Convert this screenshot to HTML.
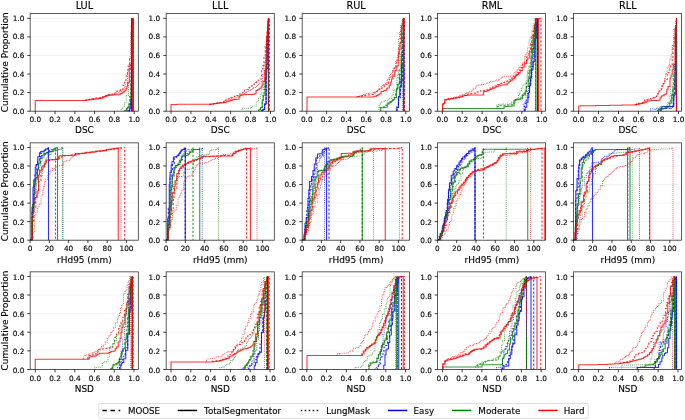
<!DOCTYPE html>
<html lang="en">
<head>
<meta charset="utf-8">
<title>Cumulative proportion curves</title>
<style>
html,body{margin:0;padding:0;background:#fff;}
body{width:685px;height:420px;overflow:hidden;font-family:'DejaVu Sans','Liberation Sans',sans-serif;}
svg{display:block;}
text{white-space:pre;stroke:#000;stroke-width:0.22px;stroke-opacity:0.6;paint-order:stroke;}
</style>
</head>
<body>
<svg width="685" height="420" viewBox="0 0 685 420" role="img" aria-label="Cumulative proportion curves">
<rect width="685" height="420" fill="#fff"/>
<defs>
<clipPath id="c00"><rect x="30.17" y="13.45" width="108.16" height="97.75"/></clipPath>
<clipPath id="c01"><rect x="166.17" y="13.45" width="108.13" height="97.75"/></clipPath>
<clipPath id="c02"><rect x="302.2" y="13.45" width="107.3" height="97.75"/></clipPath>
<clipPath id="c03"><rect x="437.5" y="13.45" width="108" height="97.75"/></clipPath>
<clipPath id="c04"><rect x="573.5" y="13.45" width="108" height="97.75"/></clipPath>
<clipPath id="c10"><rect x="30.17" y="142.85" width="108.16" height="97.35"/></clipPath>
<clipPath id="c11"><rect x="166.17" y="142.85" width="108.13" height="97.35"/></clipPath>
<clipPath id="c12"><rect x="302.2" y="142.85" width="107.3" height="97.35"/></clipPath>
<clipPath id="c13"><rect x="437.5" y="142.85" width="108" height="97.35"/></clipPath>
<clipPath id="c14"><rect x="573.5" y="142.85" width="108" height="97.35"/></clipPath>
<clipPath id="c20"><rect x="30.17" y="271.85" width="108.16" height="97.65"/></clipPath>
<clipPath id="c21"><rect x="166.17" y="271.85" width="108.13" height="97.65"/></clipPath>
<clipPath id="c22"><rect x="302.2" y="271.85" width="107.3" height="97.65"/></clipPath>
<clipPath id="c23"><rect x="437.5" y="271.85" width="108" height="97.65"/></clipPath>
<clipPath id="c24"><rect x="573.5" y="271.85" width="108" height="97.65"/></clipPath>
</defs>
<path d="M30.17 111.2H138.33M30.17 92.62H138.33M30.17 74.04H138.33M30.17 55.46H138.33M30.17 36.88H138.33M30.17 18.3H138.33" stroke="#b0b0b0" stroke-opacity="0.22" stroke-width="0.75" fill="none"/>
<g clip-path="url(#c00)" fill="none" stroke-linejoin="miter">
<path d="M128.25 111.2V110.75H129.5V108.75H131V62.25H131.75V18.3V111.2" stroke="#0000ff" stroke-width="1.1" stroke-opacity="0.8" stroke-dasharray="2.2 1.8"/>
<path d="M124.75 111.2V110.25H127V107.75H128.25V104H129.75V96.5H131.5V75H133.5V18.3V111.2" stroke="#008000" stroke-width="1.1" stroke-opacity="0.8" stroke-dasharray="2.2 1.8" stroke-dashoffset="1.3"/>
<path d="M84 100.5H85.25V100.25H86.25V100H88V99.75H89.75V99.25H91.75V98.75H93.25V98.5H94.5V98.25H96.5V98H98V97.75H100.5V97.5H102.5V96.75H104V96.25H104.75V96H106V95.5H108V95H109V94.75H110V94.5H111.25V94.25H112.5V94H113.25V93.25H115.25V91.75H116.75V91H118.5V90.5H120.5V89.5H121.75V89H123.25V85.25H124.5V82.25H125.75V80H126.25V74.75H127.5V69.75H128.25V66H129.5V58.75H131.25V30.75H132.25V18.3V111.2" stroke="#ff0000" stroke-width="1.1" stroke-opacity="0.8" stroke-dasharray="2.2 1.8" stroke-dashoffset="2.6"/>
<path d="M128.5 111.2V110.75H129.5V108H130.75V99.25H131.75V18.3V111.2" stroke="#0000ff" stroke-width="1.1" stroke-opacity="0.8"/>
<path d="M125.25 111.2V110.25H126.5V108.5H127.5V107.5H129V104H131V83.25H132V70.25H133.5V18.3V111.2" stroke="#008000" stroke-width="1.1" stroke-opacity="0.8"/>
<path d="M35.25 111.2V100.5H86V100.25H87.5V100H88.75V99.75H92V99.5H94V99.25H95.5V99H97.5V98.75H98.75V98.5H100.5V98.25H102.25V97.75H104V96.75H105V96.25H107V95.5H108V95.25H111.75V95H113.5V94.75H119V94.25H120.5V93.5H122.25V92.25H123.75V91.5H124.75V90.75H126V88.5H127V86.25H127.75V82.25H129.25V69.5H130V65H131.5V40H132.5V18.3V111.2" stroke="#ff0000" stroke-width="1.1" stroke-opacity="0.8"/>
<path d="M128 111.2V110.75H130V104.75H131.5V18.3V111.2" stroke="#0000ff" stroke-width="1.05" stroke-opacity="0.75" stroke-dasharray="0.74 1.22"/>
<path d="M121.25 111.2V108.5H122.75V106.5H124.5V102.75H126.25V95.5H128.5V82.25H130V74.75H131.25V57H132.25V31H133.5V18.3V111.2" stroke="#008000" stroke-width="1.05" stroke-opacity="0.75" stroke-dasharray="0.74 1.22" stroke-dashoffset="0.65"/>
<path d="M84 100.5H85.75V100H87.75V99.75H88.75V99.5H90.75V99.25H91.75V99H93.5V98.75H94.75V98.5H96.5V98.25H99.75V98H100.75V97.75H102.25V97H104V96.5H105.5V96H106.25V95.5H107.25V95.25H109.25V95H110.25V94.75H112.75V94.5H114.5V94H116V93.25H117V92.75H119V91.75H121V91H122V90H123V89.5H124.5V86.25H125.75V84.25H127.5V72H128.25V68.5H129.25V63H131V26H132.25V18.3V111.2" stroke="#ff0000" stroke-width="1.05" stroke-opacity="0.75" stroke-dasharray="0.74 1.22" stroke-dashoffset="1.3"/>
</g>
<rect x="30.17" y="13.45" width="108.16" height="97.75" fill="none" stroke="#000" stroke-opacity="0.8" stroke-width="0.8"/>
<path d="M27.32 111.2h2.85M27.32 92.62h2.85M27.32 74.04h2.85M27.32 55.46h2.85M27.32 36.88h2.85M27.32 18.3h2.85M35.3 111.2v2.85M55.08 111.2v2.85M74.86 111.2v2.85M94.64 111.2v2.85M114.42 111.2v2.85M134.2 111.2v2.85" stroke="#000" stroke-width="0.75" fill="none"/>
<g font-family="'DejaVu Sans','Liberation Sans',sans-serif" font-size="7.32" fill="#000">
<text x="24.35" y="113.73" text-anchor="end">0.0</text>
<text x="24.35" y="95.15" text-anchor="end">0.2</text>
<text x="24.35" y="76.57" text-anchor="end">0.4</text>
<text x="24.35" y="57.99" text-anchor="end">0.6</text>
<text x="24.35" y="39.41" text-anchor="end">0.8</text>
<text x="24.35" y="20.83" text-anchor="end">1.0</text>
<text x="35.3" y="122.16" text-anchor="middle">0.0</text>
<text x="55.08" y="122.16" text-anchor="middle">0.2</text>
<text x="74.86" y="122.16" text-anchor="middle">0.4</text>
<text x="94.64" y="122.16" text-anchor="middle">0.6</text>
<text x="114.42" y="122.16" text-anchor="middle">0.8</text>
<text x="134.2" y="122.16" text-anchor="middle">1.0</text>
</g>
<text x="84.4" y="133.15" text-anchor="middle" font-family="'DejaVu Sans','Liberation Sans',sans-serif" font-size="8.95" fill="#000">DSC</text>
<text x="84.4" y="8.65" text-anchor="middle" font-family="'DejaVu Sans','Liberation Sans',sans-serif" font-size="9.76" fill="#000">LUL</text>
<text transform="translate(8.1 62.2) rotate(-90)" text-anchor="middle" font-family="'DejaVu Sans','Liberation Sans',sans-serif" font-size="8.95" fill="#000">Cumulative Proportion</text>
<path d="M166.17 111.2H274.3M166.17 92.62H274.3M166.17 74.04H274.3M166.17 55.46H274.3M166.17 36.88H274.3M166.17 18.3H274.3" stroke="#b0b0b0" stroke-opacity="0.22" stroke-width="0.75" fill="none"/>
<g clip-path="url(#c01)" fill="none" stroke-linejoin="miter">
<path d="M262 111.2V110.25H262.75V109.75H264.5V104.75H266.25V64.5H268V29H268.5V18.3V111.2" stroke="#0000ff" stroke-width="1.1" stroke-opacity="0.8" stroke-dasharray="2.2 1.8"/>
<path d="M258.5 111.2V109.75H260.25V107.75H262.25V100.25H263.25V95H264V89.5H265.5V71H267V37H268.5V18.3V111.2" stroke="#008000" stroke-width="1.1" stroke-opacity="0.8" stroke-dasharray="2.2 1.8" stroke-dashoffset="1.3"/>
<path d="M208 104.5H210V104H213V103.5H215.5V103.25H217.25V103H218.25V102.75H219.75V102.5H221.75V102.25H223.75V101.25H225.75V100H226.75V99.75H228.5V98.75H229.25V98.5H230.25V97.75H231V97.5H232.75V97H234.25V96.25H236.25V95.5H238V94.75H239.5V94H241.25V93H243V91.75H243.75V91.25H244.5V90.25H246V89.5H248V88H249V87.25H250.5V86.25H252V85.25H254V83.75H255.5V82.5H256.5V81.5H258.25V80.25H259.75V79H261.5V69.25H262.75V65.75H264V55.75H265.25V44.5H267V30.75H268.75V20.5H269.5V18.3V111.2" stroke="#ff0000" stroke-width="1.1" stroke-opacity="0.8" stroke-dasharray="2.2 1.8" stroke-dashoffset="2.6"/>
<path d="M262 111.2V110.25H262.75V109.5H264V109H264.75V104.25H266V68.75H268V29H268.5V18.3V111.2" stroke="#0000ff" stroke-width="1.1" stroke-opacity="0.8"/>
<path d="M258.75 111.2V109.75H260.5V107.5H262.25V100.25H263.25V95.25H265V79.25H266V57.5H268V24.75H268.5V18.3V111.2" stroke="#008000" stroke-width="1.1" stroke-opacity="0.8"/>
<path d="M171 111.2V104.5H177V104.25H213.25V104H214V103.75H215.25V103.5H217V103.25H219.5V103H221.5V102.75H223.5V102.5H225.25V102.25H226.5V102H227.5V101.75H228.75V101H230.25V100.5H232.25V99.75H233.75V99.5H236V99.25H239V97H240V95.25H241.75V94.75H245.5V94.5H253V94.25H254.75V93.75H256V90.5H257.5V89.75H259.25V88.25H261.25V86.75H262V85H263V81.5H264.75V70.5H266.5V36H267.75V21.25H268.5V18.3V111.2" stroke="#ff0000" stroke-width="1.1" stroke-opacity="0.8"/>
<path d="M261.75 111.2V110.25H263.25V109.25H264.5V103.75H266V77H266.75V41.25H268V20H268.5V18.3V111.2" stroke="#0000ff" stroke-width="1.05" stroke-opacity="0.75" stroke-dasharray="0.74 1.22"/>
<path d="M242 111.2V108.25H251.5V106.25H253.25V106H256.25V101.75H257.25V100.25H258.5V98.75H260.25V94.25H261.75V90H263.25V86.5H264V84H265.75V61.75H266.75V47.75H268V18.3H268.5V111.2" stroke="#008000" stroke-width="1.05" stroke-opacity="0.75" stroke-dasharray="0.74 1.22" stroke-dashoffset="0.65"/>
<path d="M209 104.5H211V104H213.5V103.75H215.25V103.5H216.5V103.25H218V103H219.5V102.75H222V102.25H223.75V101.75H224.5V101.25H226V100.75H227.25V100H229.25V99.5H231.25V98.75H233V98H235.75V97.25H236.75V96.75H237.75V96.5H239.75V95.5H241V95H242V94.5H243.25V93.75H245.5V92.5H246.75V92H247.5V91.5H249V90.5H250.5V89.75H251.75V88.5H253V88H253.75V87.5H255.5V86.5H257V85.5H258.5V84H259.25V83.25H261.25V81.5H262.5V74H264V63H265.75V47H267V31.75H268.5V18.3V111.2" stroke="#ff0000" stroke-width="1.05" stroke-opacity="0.75" stroke-dasharray="0.74 1.22" stroke-dashoffset="1.3"/>
</g>
<rect x="166.17" y="13.45" width="108.13" height="97.75" fill="none" stroke="#000" stroke-opacity="0.8" stroke-width="0.8"/>
<path d="M163.32 111.2h2.85M163.32 92.62h2.85M163.32 74.04h2.85M163.32 55.46h2.85M163.32 36.88h2.85M163.32 18.3h2.85M171 111.2v2.85M190.9 111.2v2.85M210.8 111.2v2.85M230.7 111.2v2.85M250.6 111.2v2.85M270.5 111.2v2.85" stroke="#000" stroke-width="0.75" fill="none"/>
<g font-family="'DejaVu Sans','Liberation Sans',sans-serif" font-size="7.32" fill="#000">
<text x="160.2" y="113.73" text-anchor="end">0.0</text>
<text x="160.2" y="95.15" text-anchor="end">0.2</text>
<text x="160.2" y="76.57" text-anchor="end">0.4</text>
<text x="160.2" y="57.99" text-anchor="end">0.6</text>
<text x="160.2" y="39.41" text-anchor="end">0.8</text>
<text x="160.2" y="20.83" text-anchor="end">1.0</text>
<text x="171" y="122.16" text-anchor="middle">0.0</text>
<text x="190.9" y="122.16" text-anchor="middle">0.2</text>
<text x="210.8" y="122.16" text-anchor="middle">0.4</text>
<text x="230.7" y="122.16" text-anchor="middle">0.6</text>
<text x="250.6" y="122.16" text-anchor="middle">0.8</text>
<text x="270.5" y="122.16" text-anchor="middle">1.0</text>
</g>
<text x="220.25" y="133.15" text-anchor="middle" font-family="'DejaVu Sans','Liberation Sans',sans-serif" font-size="8.95" fill="#000">DSC</text>
<text x="220.25" y="8.65" text-anchor="middle" font-family="'DejaVu Sans','Liberation Sans',sans-serif" font-size="9.76" fill="#000">LLL</text>
<path d="M302.2 111.2H409.5M302.2 92.62H409.5M302.2 74.04H409.5M302.2 55.46H409.5M302.2 36.88H409.5M302.2 18.3H409.5" stroke="#b0b0b0" stroke-opacity="0.22" stroke-width="0.75" fill="none"/>
<g clip-path="url(#c02)" fill="none" stroke-linejoin="miter">
<path d="M396.75 111.2V107.25H398.5V97.75H400.5V80.5H402.5V47.25H403.5V18.3V111.2" stroke="#0000ff" stroke-width="1.1" stroke-opacity="0.8" stroke-dasharray="2.2 1.8"/>
<path d="M380.25 111.2V107.25H381.25V107H384.25V106.75H385V105.25H386.75V103H388.5V102.25H390V101.5H391V100.25H393V97.75H394V97.25H395.5V92.25H396.25V90.5H397.25V84.5H399.25V70.75H401.5V46.75H402.25V32.25H403.5V18.3V111.2" stroke="#008000" stroke-width="1.1" stroke-opacity="0.8" stroke-dasharray="2.2 1.8" stroke-dashoffset="1.3"/>
<path d="M356.5 97H357.25V96.5H359.25V96.25H361V96H362.25V95.75H363.5V95.5H365.25V95.25H366.5V95H370V94.75H371.25V94.5H373.25V93.5H374.25V92.75H375.5V92H376.5V91.5H377.5V90.75H379.25V89.25H380.25V88.75H381.25V88H382.5V87H384.25V85.75H385.25V84.75H386.75V83.5H388.5V79.75H389.5V78.25H390.25V77H391.5V75.25H393V70.75H394V68H395V66.25H396.75V60.25H398.75V46H400.5V31H402.25V21.5H403.25V19.75H404V19H404.5V18.3V111.2" stroke="#ff0000" stroke-width="1.1" stroke-opacity="0.8" stroke-dasharray="2.2 1.8" stroke-dashoffset="2.6"/>
<path d="M397 111.2V107.25H398.5V96.5H399.75V87H401.5V65.25H403.5V18.3V111.2" stroke="#0000ff" stroke-width="1.1" stroke-opacity="0.8"/>
<path d="M380.75 111.2V107.75H383.75V107.5H385.25V107.25H387.25V104H389.25V103H390.25V102.5H391.25V101.5H392V100.75H393V99.75H394.75V97.5H396.5V88.75H398V84H399.75V74.5H401.25V54.25H403.5V18.3V111.2" stroke="#008000" stroke-width="1.1" stroke-opacity="0.8"/>
<path d="M307 111.2V97H373.25V96.75H374.5V96.25H376.5V95.5H378V94.75H379.25V94H381V91.5H383.75V90.75H385V90.5H386.25V89H387.25V88H389.25V85.25H390.75V82.25H391.5V79H392.75V76.25H394.75V71H395.5V70.5H396.75V66H398.25V54H399.25V50H400V43H401.5V26H403V19.75H403.5V18.3V111.2" stroke="#ff0000" stroke-width="1.1" stroke-opacity="0.8"/>
<path d="M396.25 111.2V107.25H398.25V96.75H400.25V78.5H401.5V58H402.5V38.75H404.5V18.3V111.2" stroke="#0000ff" stroke-width="1.05" stroke-opacity="0.75" stroke-dasharray="0.74 1.22"/>
<path d="M379 111.2V104.75H380.25V103.25H381.25V102.25H382V101.75H383.75V101.25H385V100.75H385.75V100.5H387V100.25H388.75V99.25H389.5V98.75H390.25V98.5H391.75V95.25H393.25V90.5H394V90H395.75V89.5H397V77.5H397.75V75.25H398.5V69.5H400.25V54.25H401.75V34.25H402.5V18.3V111.2" stroke="#008000" stroke-width="1.05" stroke-opacity="0.75" stroke-dasharray="0.74 1.22" stroke-dashoffset="0.65"/>
<path d="M355.25 97H357V96.5H358.25V96.25H359.5V96H361.25V95.75H362.25V95.5H363V95.25H364V94.75H365.25V94.25H366.5V93.75H368.5V93.5H370V93.25H373.5V92.75H374.75V92.25H376.5V91H377.25V90H379.25V88.5H381.25V86.5H382.25V85.25H383.5V84.75H384.75V83.75H385.75V82.75H386.75V80.75H387.75V78H389.75V74.75H390.5V73.25H392.5V70H393.75V68.25H395.5V60.75H397V56.75H398.75V39.75H399.5V32.75H400.5V25.5H402V21H403.5V19H404.5V18.3V111.2" stroke="#ff0000" stroke-width="1.05" stroke-opacity="0.75" stroke-dasharray="0.74 1.22" stroke-dashoffset="1.3"/>
</g>
<rect x="302.2" y="13.45" width="107.3" height="97.75" fill="none" stroke="#000" stroke-opacity="0.8" stroke-width="0.8"/>
<path d="M299.35 111.2h2.85M299.35 92.62h2.85M299.35 74.04h2.85M299.35 55.46h2.85M299.35 36.88h2.85M299.35 18.3h2.85M306.8 111.2v2.85M326.6 111.2v2.85M346.4 111.2v2.85M366.2 111.2v2.85M386 111.2v2.85M405.8 111.2v2.85" stroke="#000" stroke-width="0.75" fill="none"/>
<g font-family="'DejaVu Sans','Liberation Sans',sans-serif" font-size="7.32" fill="#000">
<text x="296.05" y="113.73" text-anchor="end">0.0</text>
<text x="296.05" y="95.15" text-anchor="end">0.2</text>
<text x="296.05" y="76.57" text-anchor="end">0.4</text>
<text x="296.05" y="57.99" text-anchor="end">0.6</text>
<text x="296.05" y="39.41" text-anchor="end">0.8</text>
<text x="296.05" y="20.83" text-anchor="end">1.0</text>
<text x="306.8" y="122.16" text-anchor="middle">0.0</text>
<text x="326.6" y="122.16" text-anchor="middle">0.2</text>
<text x="346.4" y="122.16" text-anchor="middle">0.4</text>
<text x="366.2" y="122.16" text-anchor="middle">0.6</text>
<text x="386" y="122.16" text-anchor="middle">0.8</text>
<text x="405.8" y="122.16" text-anchor="middle">1.0</text>
</g>
<text x="356.1" y="133.15" text-anchor="middle" font-family="'DejaVu Sans','Liberation Sans',sans-serif" font-size="8.95" fill="#000">DSC</text>
<text x="356.1" y="8.65" text-anchor="middle" font-family="'DejaVu Sans','Liberation Sans',sans-serif" font-size="9.76" fill="#000">RUL</text>
<path d="M437.5 111.2H545.5M437.5 92.62H545.5M437.5 74.04H545.5M437.5 55.46H545.5M437.5 36.88H545.5M437.5 18.3H545.5" stroke="#b0b0b0" stroke-opacity="0.22" stroke-width="0.75" fill="none"/>
<g clip-path="url(#c03)" fill="none" stroke-linejoin="miter">
<path d="M524.5 111.2V106H525.5V103H526.75V100H527.75V93.5H529.5V83.75H531V71.25H531.75V66.5H533V56.25H534V44.75H535.25V31.5H536.25V23H537.5V18.3V111.2" stroke="#0000ff" stroke-width="1.1" stroke-opacity="0.8" stroke-dasharray="2.2 1.8"/>
<path d="M496 108.5H497.5V106.5H499.5V105.5H500.5V105.25H507V105H509V104.75H512V104.5H513V103H515V99.75H515.75V99.5H517V99.25H519.25V98.25H521V96H522.25V94.75H523.75V93.5H524.75V91.5H526.5V82.75H528.25V73H530V63H531.75V50H532.75V43.75H534V27.5H535.25V18.3H535.5V111.2" stroke="#008000" stroke-width="1.1" stroke-opacity="0.8" stroke-dasharray="2.2 1.8" stroke-dashoffset="1.3"/>
<path d="M442.5 111.2V104.75H444.5V100H446.5V99.75H448.75V99.5H450V99H451.75V98.75H454.5V98.25H456.5V98H459.25V97.25H460.5V97H461.25V96.75H462.25V96.25H463.5V95.75H464.25V95.5H466V94.75H467.5V94.25H468.25V94H471V93.5H473.25V93.25H475.25V92.75H477V92H478V91.75H479V91.25H480.5V90.75H482.25V90.5H484.25V90.25H485.25V90H487V89.75H488.5V89H490.25V88H491V87.75H492.5V87H494.5V86H496.5V85H497.5V84.5H499.25V83.75H500.75V83.5H501.75V83H503V82.5H504.5V82H505.75V81.5H507.25V80.75H509.25V79.75H510.5V79H511.75V78H512.75V77H513.75V76.5H514.75V75.5H516.25V74H517.75V72.5H519.25V70H521V67.75H522.75V64.25H524.75V61.75H526.75V56.75H528.25V52.25H529.25V49.25H530.5V42.5H531.5V37.75H533V31.5H534.5V25H536V19.5H537V18.5H540V18.3H541V111.2" stroke="#ff0000" stroke-width="1.1" stroke-opacity="0.8" stroke-dasharray="2.2 1.8" stroke-dashoffset="2.6"/>
<path d="M525.25 111.2V107.25H526.75V102.25H528V97.5H528.75V92.5H529.5V85.75H530.5V77.75H531.5V69.75H533V61.5H534.75V38.5H536.5V22.5H537.5V18.3V111.2" stroke="#0000ff" stroke-width="1.1" stroke-opacity="0.8"/>
<path d="M442.75 111.2V108.5H504V106.75H505.25V106.5H508.25V106.25H511.75V106H514V101H515.25V100H516.5V99.75H518.25V99.25H520.5V98.75H522.5V95.5H523.75V94.75H525.25V91H526.25V86.25H528.25V78.75H529.75V70.25H531.25V57.75H532.25V49.25H533.75V36.25H534.75V26H535.5V18.5H536V18.3V111.2" stroke="#008000" stroke-width="1.1" stroke-opacity="0.8"/>
<path d="M442.75 111.2V103.75H444.75V99.5H446.5V99.25H448.25V99H449.25V98.75H451.25V98.5H454V98H455.5V97.75H457.25V97.5H458.5V97.25H460.5V96.75H461.75V96.25H463V96H464V95.75H464.75V95.5H466.75V95.25H468.75V95H483.5V91.75H484.25V91.5H486.25V91H487.75V90.25H489.75V89.5H491.25V88.75H493V88.25H494.75V87.25H495.5V87H496.5V86.25H498.5V85.75H500.5V85.25H501.75V85H503.75V84.75H507V83.25H509V81.5H510.75V80.25H512.75V78.75H514.5V77.25H515.5V76H516.25V75.25H517.5V74.5H518.5V73H520.25V70.5H522.25V67.5H522.75V67H524.75V63.75H526.5V60H527.75V58H529.75V51.75H531.5V44.25H533V35.5H534.75V24.75H536V19.5H537.5V18.5H538.5V18.3V111.2" stroke="#ff0000" stroke-width="1.1" stroke-opacity="0.8"/>
<path d="M523.25 111.2V104.75H524.25V101.25H526V95.25H527.5V91.75H528.5V86H529.75V78.25H532V64.75H533.75V48.75H535.5V28H537V18.75H537.5V18.3V111.2" stroke="#0000ff" stroke-width="1.05" stroke-opacity="0.75" stroke-dasharray="0.74 1.22"/>
<path d="M494.75 108.5H496.75V105.25H498.5V104.25H502.75V104H509.75V103.5H511.75V102.25H514V100.75H515.5V99.5H516.5V98.5H518.5V94.25H520V90.5H521.25V88.5H522.75V85.25H523.75V84.25H525V83.5H526V80.75H526.75V75.5H527.5V71.25H528.75V66.5H531V55H532.5V40.75H534.25V24.25H535.5V18.3V111.2" stroke="#008000" stroke-width="1.05" stroke-opacity="0.75" stroke-dasharray="0.74 1.22" stroke-dashoffset="0.65"/>
<path d="M442.5 111.2V104.75H443.5V102.75H445.25V99.75H447V99.25H448.5V98.75H450V98.5H451V98H452.25V97.75H453.5V97.5H455V97H456.75V96.5H458.25V96H459.75V95.75H460.75V95.25H462.5V94.5H464V93.75H465.5V93.25H466.5V93H468V92.75H469.25V92H471V90.75H472V89.75H473.25V88.5H475.25V86.75H476.25V85.75H478V85.25H480V85H481.75V84.5H483.5V84.25H484.5V84H485.5V83.75H487.5V83H488.75V82.5H490.5V81.75H491.5V81.5H492.75V81.25H494.5V80.75H496.75V80H498.5V79.25H500.25V78.5H502V77.25H503V76.75H504V76.25H510.25V76H513.5V73.75H514.75V72H516V71H517.25V69.75H518.25V68.75H519.25V67.5H521V65.25H522.5V63H523V62.25H524.5V56.5H525.75V53.25H527.5V47.75H529V40.25H530.25V36.5H532V30.75H533V25.25H534V22.25H535.25V19.25H536.5V18.5H538.5V18.3V111.2" stroke="#ff0000" stroke-width="1.05" stroke-opacity="0.75" stroke-dasharray="0.74 1.22" stroke-dashoffset="1.3"/>
</g>
<rect x="437.5" y="13.45" width="108" height="97.75" fill="none" stroke="#000" stroke-opacity="0.8" stroke-width="0.8"/>
<path d="M434.65 111.2h2.85M434.65 92.62h2.85M434.65 74.04h2.85M434.65 55.46h2.85M434.65 36.88h2.85M434.65 18.3h2.85M442.4 111.2v2.85M462.26 111.2v2.85M482.12 111.2v2.85M501.98 111.2v2.85M521.84 111.2v2.85M541.7 111.2v2.85" stroke="#000" stroke-width="0.75" fill="none"/>
<g font-family="'DejaVu Sans','Liberation Sans',sans-serif" font-size="7.32" fill="#000">
<text x="431.9" y="113.73" text-anchor="end">0.0</text>
<text x="431.9" y="95.15" text-anchor="end">0.2</text>
<text x="431.9" y="76.57" text-anchor="end">0.4</text>
<text x="431.9" y="57.99" text-anchor="end">0.6</text>
<text x="431.9" y="39.41" text-anchor="end">0.8</text>
<text x="431.9" y="20.83" text-anchor="end">1.0</text>
<text x="442.4" y="122.16" text-anchor="middle">0.0</text>
<text x="462.26" y="122.16" text-anchor="middle">0.2</text>
<text x="482.12" y="122.16" text-anchor="middle">0.4</text>
<text x="501.98" y="122.16" text-anchor="middle">0.6</text>
<text x="521.84" y="122.16" text-anchor="middle">0.8</text>
<text x="541.7" y="122.16" text-anchor="middle">1.0</text>
</g>
<text x="491.95" y="133.15" text-anchor="middle" font-family="'DejaVu Sans','Liberation Sans',sans-serif" font-size="8.95" fill="#000">DSC</text>
<text x="491.95" y="8.65" text-anchor="middle" font-family="'DejaVu Sans','Liberation Sans',sans-serif" font-size="9.76" fill="#000">RML</text>
<path d="M573.5 111.2H681.5M573.5 92.62H681.5M573.5 74.04H681.5M573.5 55.46H681.5M573.5 36.88H681.5M573.5 18.3H681.5" stroke="#b0b0b0" stroke-opacity="0.22" stroke-width="0.75" fill="none"/>
<g clip-path="url(#c04)" fill="none" stroke-linejoin="miter">
<path d="M660 111.2V109H661.5V108.75H664.25V108.5H666.25V108.25H669.25V108H672.5V104.25H673.75V95.75H674.75V79H676.5V18.3V111.2" stroke="#0000ff" stroke-width="1.1" stroke-opacity="0.8" stroke-dasharray="2.2 1.8"/>
<path d="M657.5 111.2V109.5H658.75V109.25H660.5V108.75H661.75V108.5H663V108.25H663.75V108H665.75V107.25H667V106.25H669V103.25H670.75V99H672V94.25H673V84.75H673.75V75.75H675.5V33.75H676.5V18.3V111.2" stroke="#008000" stroke-width="1.1" stroke-opacity="0.8" stroke-dasharray="2.2 1.8" stroke-dashoffset="1.3"/>
<path d="M634.25 104.75H636.5V104H637.75V103.75H638.75V103.25H640.25V103H641.25V102.75H642.75V101H644.5V100H645.25V99.75H647V99.5H648V99.25H649V99H650.75V98.25H652.5V97.75H654V97H655.25V96.75H656.5V96H657.5V93.75H659.25V91H661.25V86.75H662V85.5H663.25V83.5H665V79.5H667.25V74.5H668.25V72.5H669.75V68.75H670.5V65.5H672.25V57.25H673V46H674.25V36.25H676.5V18.3V111.2" stroke="#ff0000" stroke-width="1.1" stroke-opacity="0.8" stroke-dasharray="2.2 1.8" stroke-dashoffset="2.6"/>
<path d="M661.25 111.2V106.75H662.75V106.5H673.75V94.25H675.75V25.5H676.5V18.3V111.2" stroke="#0000ff" stroke-width="1.1" stroke-opacity="0.8"/>
<path d="M658.25 111.2V109.5H661V108.75H662.75V108.5H664.5V108.25H666.25V107.5H668V106.75H668.75V106.25H669.75V103H671.75V95.5H673V88.75H674.75V66H675.75V31H676.5V18.3V111.2" stroke="#008000" stroke-width="1.1" stroke-opacity="0.8"/>
<path d="M578.75 111.2V106H580.5V105.75H596V105.5H609.5V105.25H621.75V105H634.75V104.75H636.25V104.5H638.75V104H640.25V103.75H641.5V103.5H642.5V103.25H643.25V103H644.25V102.75H646V101.75H647.25V101.25H648V101H650V100.75H651.5V100.5H658V100.25H660V98H661.25V96.25H662V95.75H664V94.5H665.25V94H666.75V89.75H668V86.5H670V78.25H671V75H672.25V69.75H673.25V64.75H675V28.5H676.5V18.3V111.2" stroke="#ff0000" stroke-width="1.1" stroke-opacity="0.8"/>
<path d="M650.5 111.2V109H655.5V108.75H671.5V106.75H673V98.25H674.75V63.75H676.5V18.3V111.2" stroke="#0000ff" stroke-width="1.05" stroke-opacity="0.75" stroke-dasharray="0.74 1.22"/>
<path d="M655.25 111.2V108.75H657.25V108H658.5V107.75H660V107.25H660.75V107H664.75V106.75H666.5V105.5H667.75V102.75H669.25V96.25H670.75V89.75H673V74.5H673.75V63.5H676V26H676.5V18.3V111.2" stroke="#008000" stroke-width="1.05" stroke-opacity="0.75" stroke-dasharray="0.74 1.22" stroke-dashoffset="0.65"/>
<path d="M634.25 104.75H636V104.25H638V103.75H639.25V103.5H642.25V102.75H643.5V102.25H644.25V101.75H645.5V101.25H647V100.75H647.75V100H649.75V99.25H651.75V98.75H653V98.25H654V98H655.5V96.75H656.25V95.75H658V92.75H658.75V91.25H660V89.5H662V85.25H662.75V84.25H663.5V82.75H664.5V78.75H665.5V74.25H666.5V71.75H667.25V68H668.25V65.75H669.75V59.25H671V54.75H672.25V44.75H673.75V29.25H675.5V20.25H676.5V18.3V111.2" stroke="#ff0000" stroke-width="1.05" stroke-opacity="0.75" stroke-dasharray="0.74 1.22" stroke-dashoffset="1.3"/>
</g>
<rect x="573.5" y="13.45" width="108" height="97.75" fill="none" stroke="#000" stroke-opacity="0.8" stroke-width="0.8"/>
<path d="M570.65 111.2h2.85M570.65 92.62h2.85M570.65 74.04h2.85M570.65 55.46h2.85M570.65 36.88h2.85M570.65 18.3h2.85M578.55 111.2v2.85M598.54 111.2v2.85M618.53 111.2v2.85M638.52 111.2v2.85M658.51 111.2v2.85M678.5 111.2v2.85" stroke="#000" stroke-width="0.75" fill="none"/>
<g font-family="'DejaVu Sans','Liberation Sans',sans-serif" font-size="7.32" fill="#000">
<text x="567.75" y="113.73" text-anchor="end">0.0</text>
<text x="567.75" y="95.15" text-anchor="end">0.2</text>
<text x="567.75" y="76.57" text-anchor="end">0.4</text>
<text x="567.75" y="57.99" text-anchor="end">0.6</text>
<text x="567.75" y="39.41" text-anchor="end">0.8</text>
<text x="567.75" y="20.83" text-anchor="end">1.0</text>
<text x="578.55" y="122.16" text-anchor="middle">0.0</text>
<text x="598.54" y="122.16" text-anchor="middle">0.2</text>
<text x="618.53" y="122.16" text-anchor="middle">0.4</text>
<text x="638.52" y="122.16" text-anchor="middle">0.6</text>
<text x="658.51" y="122.16" text-anchor="middle">0.8</text>
<text x="678.5" y="122.16" text-anchor="middle">1.0</text>
</g>
<text x="627.8" y="133.15" text-anchor="middle" font-family="'DejaVu Sans','Liberation Sans',sans-serif" font-size="8.95" fill="#000">DSC</text>
<text x="627.8" y="8.65" text-anchor="middle" font-family="'DejaVu Sans','Liberation Sans',sans-serif" font-size="9.76" fill="#000">RLL</text>
<path d="M30.17 240.2H138.33M30.17 221.64H138.33M30.17 203.08H138.33M30.17 184.52H138.33M30.17 165.96H138.33M30.17 147.4H138.33" stroke="#b0b0b0" stroke-opacity="0.22" stroke-width="0.75" fill="none"/>
<g clip-path="url(#c10)" fill="none" stroke-linejoin="miter">
<path d="M30.75 240.2V240H32.75V204H34V184.25H35V173.25H36.75V163.25H37.75V160.25H39.25V156.5H40.75V153.25H42.25V152H44.25V150.75H45.25V149.75H46.5V149H47.75V148H48.5V147.4" stroke="#0000ff" stroke-width="1.1" stroke-opacity="0.8" stroke-dasharray="2.2 1.8"/>
<path d="M30.75 240.2V240H32V212.25H33.5V194H35V179.5H37V170.25H38.5V162.75H40.5V156.5H41.5V155.5H43.25V154H44.25V153.5H45.25V152.75H47.25V151.25H48V151H49.5V150H50.75V149.5H54V149.25H55.5V147.4V240.2" stroke="#008000" stroke-width="1.1" stroke-opacity="0.8" stroke-dasharray="2.2 1.8" stroke-dashoffset="1.3"/>
<path d="M30.75 240.2V240H32.25V220.75H33.75V208H35.75V196.75H36.75V193H38.75V181.75H41V170.5H42.75V167.25H44.25V164H45V163H46.5V161H47.25V160.75H49.25V160H51V159.75H52.75V159.5H55V159.25H56.25V159H57.5V158.75H59.25V158H61V157.25H61.75V156.5H62.75V156.25H63.75V155.75H67.75V155.5H69.75V155.25H71V155H74.5V154.75H76V154.25H77.75V154H79.5V153.75H81.5V153.5H83V153.25H84.75V153H86.5V152.75H88V152.5H91.25V152.25H92V152H95V151.75H96.25V151.5H99V151.25H100V151H100.75V150.75H102.75V150.5H104.75V150.25H106.5V149.75H108.75V149.5H110.5V149.25H113.5V149H114.5V148.75H117.5V148.5H120.25V148.25H121V148H123V147.75H124.75V147.4V240.2" stroke="#ff0000" stroke-width="1.1" stroke-opacity="0.8" stroke-dasharray="2.2 1.8" stroke-dashoffset="2.6"/>
<path d="M30.5 240.2V240H32V207.25H33V187.25H33.75V180H35.25V167.25H36V164.5H37.75V156.75H39.5V152.75H40.75V151.5H41.75V151.25H44.25V150.25H45.5V149H47.5V148.75H48.5V147.4V240.2" stroke="#0000ff" stroke-width="1.1" stroke-opacity="0.8"/>
<path d="M30.75 240.2V240H32.5V204.5H33.75V194.25H34.75V181.5H35.75V177.75H37.5V169.25H38.5V163.75H40V158.5H41.75V156H43.25V154.75H45.25V153.25H46.5V152.5H48.25V151.75H50V151.5H51V151.25H53V149.75H53.75V149H54.75V148.25H56V147.75H56.75V147.5H57.5V147.4V240.2" stroke="#008000" stroke-width="1.1" stroke-opacity="0.8"/>
<path d="M30.5 240.2V240H32.25V211.5H34V202.75H35V197.5H37V191H38.5V175H39.5V170.25H41.5V167H42.75V165.75H44.5V164H46V160H50V159.75H54.5V159.5H58.25V157H59.25V155.75H64.75V155.5H71.5V155.25H74.25V154.75H75.5V153.5H81.25V153.25H84.5V152.75H85.75V152.25H90.25V152H95.75V151H102.75V150.75H106.25V149.5H108.25V149.25H111.75V149H113V148.75H114.5V148.5H115.5V148.25H118.25V147.4V240.2" stroke="#ff0000" stroke-width="1.1" stroke-opacity="0.8"/>
<path d="M30.75 240.2V240H32V217.5H32.75V207.5H34.25V186.25H35.75V177.25H37.25V170.5H39V165.25H41V161.75H42V159H43V157.75H44V155.75H45.25V154.25H47V153H47.75V152.5H49V151.75H50.75V151.5H52V151.25H54.5V151H56.25V150.25H58.25V149.25H60V148.75H62V147.75H63V147.4V240.2" stroke="#0000ff" stroke-width="1.05" stroke-opacity="0.75" stroke-dasharray="0.74 1.22"/>
<path d="M31 240.2V240H32.25V218.25H33.75V198.75H35V190.25H36.5V182H38V177.75H39.25V176.25H40.5V175.75H42.25V169.25H43.25V166H44.75V161.75H45.75V158.25H47.5V155.75H49.5V154.75H50.75V153H52.25V151.25H53.25V150.5H54.75V150H56.5V149.75H58.5V149.5H60.5V149.25H61.75V148H62.5V147.4V240.2" stroke="#008000" stroke-width="1.05" stroke-opacity="0.75" stroke-dasharray="0.74 1.22" stroke-dashoffset="0.65"/>
<path d="M31 240.2V240H32.5V231.25H34.5V215.5H35.75V212H37.25V208.5H38V206H39.25V204H41V195.25H42.75V190.5H43.5V186.75H44.5V182H45.75V179.25H47.75V175H50V171.75H51V170.5H52.5V168.75H54.25V167.5H55.5V167H57.5V166H59V165.75H60.25V165.5H62.75V164.75H63.75V161.75H64.5V161.5H66.5V160.75H67.25V160.5H68.5V160H69.75V159H71V158H72.5V157H73.75V156.25H74.75V155.5H75.75V155H77.25V154.5H78V154H80.5V153.75H84V153.5H86V153.25H87.75V153H90.75V152.75H91.5V152.5H93V152.25H94.5V152H95.25V151.75H96.25V151.5H98V151.25H100V151H101.75V150.75H102.75V150.5H103.5V150.25H106.25V150H108V149.75H110V149.5H111.25V149.25H112.75V149H114.5V148.75H115.5V148.5H117.25V148.25H118V148H119.5V147.75H121V147.4V240.2" stroke="#ff0000" stroke-width="1.05" stroke-opacity="0.75" stroke-dasharray="0.74 1.22" stroke-dashoffset="1.3"/>
</g>
<rect x="30.17" y="142.85" width="108.16" height="97.35" fill="none" stroke="#000" stroke-opacity="0.8" stroke-width="0.8"/>
<path d="M27.32 240.2h2.85M27.32 221.64h2.85M27.32 203.08h2.85M27.32 184.52h2.85M27.32 165.96h2.85M27.32 147.4h2.85M30.07 240.2v2.85M49.35 240.2v2.85M68.63 240.2v2.85M87.91 240.2v2.85M107.19 240.2v2.85M126.47 240.2v2.85" stroke="#000" stroke-width="0.75" fill="none"/>
<g font-family="'DejaVu Sans','Liberation Sans',sans-serif" font-size="7.32" fill="#000">
<text x="24.35" y="243.08" text-anchor="end">0.0</text>
<text x="24.35" y="224.52" text-anchor="end">0.2</text>
<text x="24.35" y="205.96" text-anchor="end">0.4</text>
<text x="24.35" y="187.4" text-anchor="end">0.6</text>
<text x="24.35" y="168.84" text-anchor="end">0.8</text>
<text x="24.35" y="150.28" text-anchor="end">1.0</text>
<text x="30.07" y="251.16" text-anchor="middle">0</text>
<text x="49.35" y="251.16" text-anchor="middle">20</text>
<text x="68.63" y="251.16" text-anchor="middle">40</text>
<text x="87.91" y="251.16" text-anchor="middle">60</text>
<text x="107.19" y="251.16" text-anchor="middle">80</text>
<text x="126.47" y="251.16" text-anchor="middle">100</text>
</g>
<text x="84.4" y="262.92" text-anchor="middle" font-family="'DejaVu Sans','Liberation Sans',sans-serif" font-size="8.95" fill="#000">rHd95 (mm)</text>
<text transform="translate(8.1 191.37) rotate(-90)" text-anchor="middle" font-family="'DejaVu Sans','Liberation Sans',sans-serif" font-size="8.95" fill="#000">Cumulative Proportion</text>
<path d="M166.17 240.2H274.3M166.17 221.64H274.3M166.17 203.08H274.3M166.17 184.52H274.3M166.17 165.96H274.3M166.17 147.4H274.3" stroke="#b0b0b0" stroke-opacity="0.22" stroke-width="0.75" fill="none"/>
<g clip-path="url(#c11)" fill="none" stroke-linejoin="miter">
<path d="M166.5 240.2V240H168.25V207.25H170V176.5H171V170.75H172.5V163.5H174.25V157.5H175V157.25H176.5V156.5H178.25V155H179V153.75H180V152.25H181.75V149.75H182.5V149.5H184.25V148H185.25V147.4V240.2" stroke="#0000ff" stroke-width="1.1" stroke-opacity="0.8" stroke-dasharray="2.2 1.8"/>
<path d="M166.5 240.2V240H167.75V229H169.5V209.5H171.25V188.5H172.5V177.5H174V169.5H174.75V166H177V165H178V164.5H179.5V162.5H180.25V159.5H182.5V156.25H184.5V154.75H185.5V154.25H187V153.5H189V151.75H190V151H192V147.75H193V147.4V240.2" stroke="#008000" stroke-width="1.1" stroke-opacity="0.8" stroke-dasharray="2.2 1.8" stroke-dashoffset="1.3"/>
<path d="M166.75 240.2V240H167.75V232.75H168.5V227.5H170V217.25H171.25V211H173.25V197.5H174V193.75H174.75V188.25H176.75V176.75H177.75V173.75H179.5V170.25H181V168.25H181.75V167.25H183.5V165.25H185.5V164.25H186.25V164H187V163.5H188V163H188.75V162.75H190.75V162H192V161.5H193.5V161H194.75V160.5H196.5V159.75H197.25V159.5H198.75V158.75H200.25V158H202.25V157.25H204V157H205V156.75H209V156.5H212.5V156.25H216.25V156H220.75V155.75H224.25V155.5H230.25V155.25H233.25V153.25H235V151.75H236V151.25H237V150.75H239V150.25H240V150H241V149.75H241.75V149.5H243.25V149H244V148.75H246V147.75H246.5V147.4V240.2" stroke="#ff0000" stroke-width="1.1" stroke-opacity="0.8" stroke-dasharray="2.2 1.8" stroke-dashoffset="2.6"/>
<path d="M166.5 240.2V240H167.75V218.25H169.25V184.5H170V172.25H171.25V165H172V161.5H173.5V157H175V156.75H176.75V156H178V155H179V153.5H180.25V151.75H181V150.25H182.25V149.5H183.75V149.25H185.25V147.4V240.2" stroke="#0000ff" stroke-width="1.1" stroke-opacity="0.8"/>
<path d="M166.5 240.2V240H168V223.25H169.25V210.25H171V185.75H172.25V175H174V167.5H175.25V165.75H176V165.5H178V164.25H180V160.5H181.75V156.25H183V155.75H185.5V155.5H188V154.25H189.5V152.5H190.75V152H192.25V150.75H193.5V149.5H199.25V149.25H199.75V147.4V240.2" stroke="#008000" stroke-width="1.1" stroke-opacity="0.8"/>
<path d="M166.5 240.2V240H168V227.5H170V213.75H171V203.25H171.75V200.25H172.75V192.5H174.25V186.5H175V181H176.75V173.75H178.5V170.5H179.5V168.25H180.75V166.75H182.5V165H184.5V164H185.75V163.25H187.5V162.5H188.5V162H189.5V161.5H190.25V161.25H192V160.75H193.25V160.25H195V159.75H196V159.5H197.5V159H198.75V158.75H200.75V157.25H201.75V156.75H203.5V156.25H217.5V156H232.5V154H234V153.25H235.75V152H236.5V151.5H238.5V150.75H240V150.25H241V149.75H242.25V149.5H243.5V149H245.25V148.75H246.75V148.5H250.5V147.4V240.2" stroke="#ff0000" stroke-width="1.1" stroke-opacity="0.8"/>
<path d="M166.5 240.2V240H167.75V225.5H169V208H170V190H171.25V180H172.25V175.25H173V173.25H174V169.75H175.25V167.5H176.25V165.5H178V162H179V160.75H180V158.5H181.75V155.5H183V153.25H184.25V151.5H186V150.5H188V149.5H199.5V149.25H202.25V147.4V240.2" stroke="#0000ff" stroke-width="1.05" stroke-opacity="0.75" stroke-dasharray="0.74 1.22"/>
<path d="M166.75 240.2V240H168V230.5H168.75V224.25H170.25V204.5H172.25V188.5H173.75V184.75H175.5V180.25H177.25V177.5H178.25V176.75H179.25V176.5H181.5V176.25H183.5V172.25H185.25V169.5H187.75V169.25H190.5V169H193V163.25H194V160.5H195V159H197V156.75H198.5V156H200.25V155.75H201V155.5H203V155.25H204.25V155H206.25V154.5H208V154.25H209.5V152H210.5V150H211.75V149.75H215.5V149.5H218V148.5H218.5V147.4V240.2" stroke="#008000" stroke-width="1.05" stroke-opacity="0.75" stroke-dasharray="0.74 1.22" stroke-dashoffset="0.65"/>
<path d="M167 240.2V240H168.75V229.5H170.5V223H171.25V219H172.5V213H173.75V211H175.25V209.25H176.25V205.25H178V198.25H178.5V197H180V193.75H181.5V190.25H183.5V181.75H185.25V178.25H186.25V177H188.25V176.25H189.25V176H190V175.75H192V173H193.25V170.25H195.25V166.75H196V166.25H196.75V165.25H198V163.75H198.75V163.5H200.5V163.25H202.5V163H206V162.5H209V161.5H210.25V160.75H211.5V160.25H212.75V159.5H213.5V159H215.5V158.25H218V157.75H220V156.25H221V155.25H222.25V154.75H223.5V154.5H226.5V154.25H230V153.75H232V152.75H233.5V151.75H234.25V151.5H235V151.25H236.5V150.75H237.75V150.5H239V150.25H241V149.5H242.25V149.25H245.25V148.75H249.5V148.5H257V147.4V240.2" stroke="#ff0000" stroke-width="1.05" stroke-opacity="0.75" stroke-dasharray="0.74 1.22" stroke-dashoffset="1.3"/>
</g>
<rect x="166.17" y="142.85" width="108.13" height="97.35" fill="none" stroke="#000" stroke-opacity="0.8" stroke-width="0.8"/>
<path d="M163.32 240.2h2.85M163.32 221.64h2.85M163.32 203.08h2.85M163.32 184.52h2.85M163.32 165.96h2.85M163.32 147.4h2.85M166.07 240.2v2.85M185.35 240.2v2.85M204.63 240.2v2.85M223.91 240.2v2.85M243.19 240.2v2.85M262.47 240.2v2.85" stroke="#000" stroke-width="0.75" fill="none"/>
<g font-family="'DejaVu Sans','Liberation Sans',sans-serif" font-size="7.32" fill="#000">
<text x="160.2" y="243.08" text-anchor="end">0.0</text>
<text x="160.2" y="224.52" text-anchor="end">0.2</text>
<text x="160.2" y="205.96" text-anchor="end">0.4</text>
<text x="160.2" y="187.4" text-anchor="end">0.6</text>
<text x="160.2" y="168.84" text-anchor="end">0.8</text>
<text x="160.2" y="150.28" text-anchor="end">1.0</text>
<text x="166.07" y="251.16" text-anchor="middle">0</text>
<text x="185.35" y="251.16" text-anchor="middle">20</text>
<text x="204.63" y="251.16" text-anchor="middle">40</text>
<text x="223.91" y="251.16" text-anchor="middle">60</text>
<text x="243.19" y="251.16" text-anchor="middle">80</text>
<text x="262.47" y="251.16" text-anchor="middle">100</text>
</g>
<text x="220.25" y="262.92" text-anchor="middle" font-family="'DejaVu Sans','Liberation Sans',sans-serif" font-size="8.95" fill="#000">rHd95 (mm)</text>
<path d="M302.2 240.2H409.5M302.2 221.64H409.5M302.2 203.08H409.5M302.2 184.52H409.5M302.2 165.96H409.5M302.2 147.4H409.5" stroke="#b0b0b0" stroke-opacity="0.22" stroke-width="0.75" fill="none"/>
<g clip-path="url(#c12)" fill="none" stroke-linejoin="miter">
<path d="M303 240.2V240H304.5V229.5H305.75V222H306.75V210.5H307.75V205H309.5V190.25H310.25V185.75H312V178H313.75V171H314.5V168.25H316.25V160H317.25V157.25H318V156.25H319.75V155.75H321.5V155.5H322.75V152H324.5V150H325.25V149.75H326.75V148.5H328V147.75H329V147.4V240.2" stroke="#0000ff" stroke-width="1.1" stroke-opacity="0.8" stroke-dasharray="2.2 1.8"/>
<path d="M303 240.2V240H304V235.5H304.75V231.25H305.5V227.5H307.25V221H308.75V212.5H310V204.25H311.75V194.75H313V188H315V179.25H316.25V176.75H318.25V171.25H319.75V170.75H321.75V169.75H323.75V169H325V166.5H327.25V163.75H329.25V161.5H331V160.5H332V160.25H333.5V159.5H335.25V159H337.25V158.5H339V158H340.75V157.5H342.5V157H346.25V156.75H348.75V156.5H352.5V156.25H353.75V153.5H355V153H357V152H358.75V150.75H360.25V149H362.25V147.4V240.2" stroke="#008000" stroke-width="1.1" stroke-opacity="0.8" stroke-dasharray="2.2 1.8" stroke-dashoffset="1.3"/>
<path d="M303.25 240.2V240H305V233.5H305.75V229.75H307.75V224H309.25V216H311V210H312.75V202H314V197.25H316.25V189.25H318V182.5H319V180H320.75V177H322.5V174.25H324.25V172H326V170.25H328V169H329V168.25H329.75V167.5H331V166H332.75V162.5H334.75V161.5H336.25V160.25H337.75V159.5H339.25V158.75H341V157.5H343V156.75H345.25V156H346.75V155.5H348.5V154.75H349.25V154.5H351V154H352.25V153.5H354.25V152.5H356.25V151.75H358V151.5H361.25V151.25H366.5V150.75H368.75V150H370.5V149.5H371.75V149.25H376V149H382.25V148.75H388V148.5H398.5V148.25H400V148H401.5V147.5H402.25V147.4V240.2" stroke="#ff0000" stroke-width="1.1" stroke-opacity="0.8" stroke-dasharray="2.2 1.8" stroke-dashoffset="2.6"/>
<path d="M303 240.2V240H305V223.25H306.25V217.5H308V198.5H308.75V190H309.5V181.5H311.5V176.5H313V170.5H314.25V164H315.75V158H317.5V154H319.5V153.75H321.25V153.25H322.25V149.75H323.5V149.5H324.25V149H325V148.25H326.5V147.4V240.2" stroke="#0000ff" stroke-width="1.1" stroke-opacity="0.8"/>
<path d="M303 240.2V240H304V234.25H306V226.25H306.75V221.75H308.75V210H309.75V201.25H310.5V199H312.75V186.25H314V180H315.25V176.75H317.25V171.5H319V170.5H322.25V170.25H324.75V166.75H325.75V164.5H327.75V161.5H329.75V160H330.75V159.75H331.5V159.5H333.5V159.25H334.75V159H336.75V158.25H338.5V157.75H339.5V157.25H341V156.75H341.75V156.5H344V156.25H349V156H352.25V155H353.75V152.5H356V151.5H357V151H359V150.75H361.75V150.5H362.25V147.4V240.2" stroke="#008000" stroke-width="1.1" stroke-opacity="0.8"/>
<path d="M303 240.2V240H304.75V232.5H306.5V227.5H308.5V218.75H310V211H312V201H312.75V199H314.75V192.75H315.75V187.25H317.25V182.75H318.5V178.25H320V175H321.75V172.75H324V170.5H325V169.75H326.75V168.5H328V167.25H329.5V165.25H330.75V162.75H332.5V161H333.75V160.5H334.5V160H336.5V159.25H338V158.75H339.5V158H341.25V153.5H345.5V153.25H353V151.5H355V151H365.25V150.75H369V150.5H370V148.75H374.75V148.5H385.25V147.4V240.2" stroke="#ff0000" stroke-width="1.1" stroke-opacity="0.8"/>
<path d="M303.25 240.2V240H304.25V234.25H305.25V225.75H306.5V217.5H308.25V200.75H309.5V196H310.25V189.25H311.25V183.5H312.25V180H313V177.25H314.25V173.75H315.75V169.5H317.5V162.5H319.5V158.5H320.25V157.5H321.25V156.25H323.25V152H324.5V147.4V240.2" stroke="#0000ff" stroke-width="1.05" stroke-opacity="0.75" stroke-dasharray="0.74 1.22"/>
<path d="M303.25 240.2V240H304.5V232.75H305.75V227H307V223H307.75V219.25H308.5V215.75H309.5V210H310.75V202.5H312.25V193.75H314V186.25H315.5V182H316.5V179.75H317V177.75H318.5V174.75H319.25V174H321.25V172.75H322.75V171.75H324.5V170.75H325.75V169H327V166.5H328.75V164H330.5V162.75H332.25V161.75H334V160.75H336V160H338V159.75H340.75V159.5H343.75V159.25H345.75V159H348V158.25H349.5V156.75H351.5V156.5H352.5V156.25H357.25V156H362.75V154H364V153H365.75V152.25H367.5V151.25H369V150.75H370V150.5H371V150.25H373V150H373.5V147.4V240.2" stroke="#008000" stroke-width="1.05" stroke-opacity="0.75" stroke-dasharray="0.74 1.22" stroke-dashoffset="0.65"/>
<path d="M303.5 240.2V240H305V235H306.75V230.5H308.75V225.5H309.5V222.5H311.25V215.5H312V213.5H313.5V206.75H315.25V202H317.25V195H319.25V189H320.5V184.25H321.75V181.25H322.5V179.5H324.25V176.25H325.25V175.25H326.25V174.75H327.25V173.75H328V173.5H329.5V170H330.75V167H332.5V166.25H334V165.5H336V164H337.5V162.5H338.5V161.75H340.25V160H341.75V159H343.25V158H345V157.25H346.25V156.75H347V156.25H348V156H349.75V155.25H350.5V155H352.25V154.25H353.25V154H354.75V153.25H356V152.75H358.75V152.5H360.25V152.25H362.25V152H364.75V151.75H367.25V151.5H369.5V151.25H372.25V151H376.25V150.75H380.25V150.5H382.75V149.5H384V149H386V148.75H389.5V148.5H399.5V147.4V240.2" stroke="#ff0000" stroke-width="1.05" stroke-opacity="0.75" stroke-dasharray="0.74 1.22" stroke-dashoffset="1.3"/>
</g>
<rect x="302.2" y="142.85" width="107.3" height="97.35" fill="none" stroke="#000" stroke-opacity="0.8" stroke-width="0.8"/>
<path d="M299.35 240.2h2.85M299.35 221.64h2.85M299.35 203.08h2.85M299.35 184.52h2.85M299.35 165.96h2.85M299.35 147.4h2.85M302.1 240.2v2.85M321.38 240.2v2.85M340.66 240.2v2.85M359.94 240.2v2.85M379.22 240.2v2.85M398.5 240.2v2.85" stroke="#000" stroke-width="0.75" fill="none"/>
<g font-family="'DejaVu Sans','Liberation Sans',sans-serif" font-size="7.32" fill="#000">
<text x="296.05" y="243.08" text-anchor="end">0.0</text>
<text x="296.05" y="224.52" text-anchor="end">0.2</text>
<text x="296.05" y="205.96" text-anchor="end">0.4</text>
<text x="296.05" y="187.4" text-anchor="end">0.6</text>
<text x="296.05" y="168.84" text-anchor="end">0.8</text>
<text x="296.05" y="150.28" text-anchor="end">1.0</text>
<text x="302.1" y="251.16" text-anchor="middle">0</text>
<text x="321.38" y="251.16" text-anchor="middle">20</text>
<text x="340.66" y="251.16" text-anchor="middle">40</text>
<text x="359.94" y="251.16" text-anchor="middle">60</text>
<text x="379.22" y="251.16" text-anchor="middle">80</text>
<text x="398.5" y="251.16" text-anchor="middle">100</text>
</g>
<text x="356.1" y="262.92" text-anchor="middle" font-family="'DejaVu Sans','Liberation Sans',sans-serif" font-size="8.95" fill="#000">rHd95 (mm)</text>
<path d="M437.5 240.2H545.5M437.5 221.64H545.5M437.5 203.08H545.5M437.5 184.52H545.5M437.5 165.96H545.5M437.5 147.4H545.5" stroke="#b0b0b0" stroke-opacity="0.22" stroke-width="0.75" fill="none"/>
<g clip-path="url(#c13)" fill="none" stroke-linejoin="miter">
<path d="M438.5 240.2V240H439.25V236.75H440.25V234.5H441.5V231H442.75V226.75H443.5V222.75H445V216.75H446V210.75H447.25V203.75H448.5V192.5H449.75V185.25H451.5V179.25H453V174H454V172.5H456V169.5H457.75V166.5H459.75V163.25H460.75V161.75H462.25V158.75H463.5V158.25H465V156.75H466.5V155.5H468.5V153.75H470.25V152H472V150.75H473.25V150H475V147.4V240.2" stroke="#0000ff" stroke-width="1.1" stroke-opacity="0.8" stroke-dasharray="2.2 1.8"/>
<path d="M438.5 240.2V240H440.25V235.25H442V230.5H443.25V225.5H445V218.25H446.5V213.5H447.75V207.5H449.5V199.25H450.75V194H452.5V186.5H453.5V183H455.5V175.75H456.25V174.75H458V173.75H460V169.5H461.5V168.75H463.75V168H464.5V167.75H466V167.5H468.25V165.25H469.5V161.75H470.5V161.25H472.75V159.75H474V158.75H475.25V158.25H476.75V156.75H477.5V156H478.5V155.75H479.25V155.25H481.5V154.5H482.25V151.75H483.5V147.4V240.2" stroke="#008000" stroke-width="1.1" stroke-opacity="0.8" stroke-dasharray="2.2 1.8" stroke-dashoffset="1.3"/>
<path d="M438.5 240.2V240H439.75V237H441.25V233.75H442.5V231H444.25V225.25H446.25V219.25H447V215.75H448.25V212.5H449.5V208H451.5V201.25H453.25V197.5H454V196.25H455.75V193.75H457.5V190.25H459.25V188H461.25V185.25H462.5V184.25H463.75V182.75H464.5V181.25H465.25V180.75H466.25V179.5H467.25V178H468.5V176H470V174H470.75V173.5H472.25V171.75H473.75V170.75H475V170H476.75V169.75H477.75V169.5H479.5V169.25H481.25V168.75H483.25V168H484.75V167.5H486.5V166.75H488.25V165.75H489.25V165.25H490.75V164.75H492.5V163.75H494.5V162.75H496V162H497.75V159H499.25V155.75H500.75V155H502.25V154.25H504V153.5H507.75V153.25H512.5V153H516.75V151.75H518.25V151H526.75V150.5H528.75V150H530.75V149.75H533.25V149.5H535.25V149.25H536.25V149H539.25V148.75H540.25V148.5H542V147.4V240.2" stroke="#ff0000" stroke-width="1.1" stroke-opacity="0.8" stroke-dasharray="2.2 1.8" stroke-dashoffset="2.6"/>
<path d="M438.5 240.2V240H439.25V236.75H440.5V233.75H442.25V228H443V225.5H444.25V218.25H445.75V212.5H447.5V199.25H448.5V189.25H449.5V182.75H451.25V175.25H453.25V171H454.75V168.5H456.5V166H457.25V165H459V162.25H460.25V160.5H461.5V158.5H462.75V157H464.5V155.75H465.5V154.75H466.75V153.5H468.75V151.5H470V150.75H471.25V150.25H472.75V149H475V147.4V240.2" stroke="#0000ff" stroke-width="1.1" stroke-opacity="0.8"/>
<path d="M438.5 240.2V240H440.25V233.5H441.25V232.25H443V225.75H444.25V221.25H445V216.25H445.75V215.25H446.75V210.5H447.75V204.75H449V199.75H450.75V189H452.75V182.25H454.5V175.75H456.25V174H457.25V172.5H459V169.5H460.5V168.25H461.75V167.75H463V167.5H465V167H466V166.75H467.75V163.75H469.25V161H471.25V160H471.75V159.75H473.75V159H475.5V156.75H477.25V155.5H479.25V154.75H481.25V154.25H483V149.5H484.25V149.25H527.75V147.4V240.2" stroke="#008000" stroke-width="1.1" stroke-opacity="0.8"/>
<path d="M438.5 240.2V240H440.25V235H441.75V231.5H443V229.25H444V225.25H444.5V222.25H445.5V220H447.5V212.5H449V208H450.25V203.25H452.25V198.25H453.25V196H454.75V193.25H455.5V191.75H457.25V189.75H459V187.25H460V186H461.75V184H463.75V182H465.5V179.25H466.5V177.25H468.5V175.5H469.25V174.75H470.75V173.75H471.5V173H472.5V172.25H473.5V171.5H474.75V171H476V170.75H477.75V170.5H479.75V170.25H482.75V169.75H484.75V168.25H485.75V167.75H486.75V167.25H488.5V166.25H490V165.5H490.75V165H492V164.75H493.75V163.5H495.25V163H496.5V162H497.5V160.25H498.75V158H500V156.25H501.25V155.25H502.75V153.75H511V153.5H516.75V151.75H521.75V151.5H527V150.25H528.5V149.5H532.25V149.25H535V149H536.25V148.75H539.25V148.5H541V148.25H544.75V147.4V240.2" stroke="#ff0000" stroke-width="1.1" stroke-opacity="0.8"/>
<path d="M438.5 240.2V240H439.75V236.75H441.75V231.75H443.25V224.75H444.75V218.5H445.75V215H446.75V210.75H448.25V199.25H449V195.5H450.75V183.5H452.25V178H454V173.75H454.75V173.25H456.25V170.5H458V168H459.75V165.5H461V162.75H462.75V159.5H464V158H464.75V156.75H466.5V153.5H468V152.25H469V150.75H470.25V149.5H471V149H472.75V148.25H474.5V147.5H475V147.4V240.2" stroke="#0000ff" stroke-width="1.05" stroke-opacity="0.75" stroke-dasharray="0.74 1.22"/>
<path d="M439 240.2V240H440.75V235.5H441.75V233H442.75V230.5H444V227.75H445.75V221.25H446.75V216.75H448V212.75H450V205H451.5V199H453V192.5H454.25V189.25H455.75V185.25H457.25V183.5H459V180.25H461V173.5H463V169H464.5V166.5H465.5V165.75H466.25V165H468.75V163.75H470V162.75H471.5V161.75H472.5V161H474.5V159H476V158.75H478.25V158.5H480.75V158.25H481.75V157H483V153.5H484.75V152.25H488.75V152H494.75V149.5H505V149.25H506.25V147.4V240.2" stroke="#008000" stroke-width="1.05" stroke-opacity="0.75" stroke-dasharray="0.74 1.22" stroke-dashoffset="0.65"/>
<path d="M440.75 240.2V240H441.75V238H442.75V235.5H443.75V234.75H445V232H446.25V229.5H448.25V225H449.5V222.25H450.75V220.25H451.75V214.25H453.5V208.75H455V205.25H456V201.5H457V199H459V194.75H460.75V191H462.25V187.25H463.75V184.5H464.75V183.25H466.75V178.5H467.75V177.5H468.75V176.5H470.5V175.25H471.5V175H473.25V173.75H474.25V172.5H475.25V171.5H476.5V170H478.5V169.25H480.25V169H482.25V168.5H484.25V168H485.75V167.5H487.75V166.5H488.75V166.25H490.5V165.5H492.25V164.25H493.5V163.5H495.5V161.25H497.25V159H498.5V157.75H500V155.75H503.75V155.5H506V155.25H510V154.75H512.5V154.5H515V154.25H516.75V153.5H517.75V153H519V152.75H522.5V152.5H525.25V152.25H527.25V151.75H529.25V150.25H530.5V147.4V240.2" stroke="#ff0000" stroke-width="1.05" stroke-opacity="0.75" stroke-dasharray="0.74 1.22" stroke-dashoffset="1.3"/>
</g>
<rect x="437.5" y="142.85" width="108" height="97.35" fill="none" stroke="#000" stroke-opacity="0.8" stroke-width="0.8"/>
<path d="M434.65 240.2h2.85M434.65 221.64h2.85M434.65 203.08h2.85M434.65 184.52h2.85M434.65 165.96h2.85M434.65 147.4h2.85M437.4 240.2v2.85M456.68 240.2v2.85M475.96 240.2v2.85M495.24 240.2v2.85M514.52 240.2v2.85M533.8 240.2v2.85" stroke="#000" stroke-width="0.75" fill="none"/>
<g font-family="'DejaVu Sans','Liberation Sans',sans-serif" font-size="7.32" fill="#000">
<text x="431.9" y="243.08" text-anchor="end">0.0</text>
<text x="431.9" y="224.52" text-anchor="end">0.2</text>
<text x="431.9" y="205.96" text-anchor="end">0.4</text>
<text x="431.9" y="187.4" text-anchor="end">0.6</text>
<text x="431.9" y="168.84" text-anchor="end">0.8</text>
<text x="431.9" y="150.28" text-anchor="end">1.0</text>
<text x="437.4" y="251.16" text-anchor="middle">0</text>
<text x="456.68" y="251.16" text-anchor="middle">20</text>
<text x="475.96" y="251.16" text-anchor="middle">40</text>
<text x="495.24" y="251.16" text-anchor="middle">60</text>
<text x="514.52" y="251.16" text-anchor="middle">80</text>
<text x="533.8" y="251.16" text-anchor="middle">100</text>
</g>
<text x="491.95" y="262.92" text-anchor="middle" font-family="'DejaVu Sans','Liberation Sans',sans-serif" font-size="8.95" fill="#000">rHd95 (mm)</text>
<path d="M573.5 240.2H681.5M573.5 221.64H681.5M573.5 203.08H681.5M573.5 184.52H681.5M573.5 165.96H681.5M573.5 147.4H681.5" stroke="#b0b0b0" stroke-opacity="0.22" stroke-width="0.75" fill="none"/>
<g clip-path="url(#c14)" fill="none" stroke-linejoin="miter">
<path d="M574 240.2V240H575.75V199.25H577V187.25H578.25V169.25H579V165.25H580V160.25H581.75V158.75H582.5V158.5H583.5V157.5H585.25V156H586.5V155.25H588.25V153.25H589.5V152.5H591.25V151.5H592.5V151H593.25V150.75H594.75M616.25 149.5H627.75V147.4V240.2" stroke="#0000ff" stroke-width="1.1" stroke-opacity="0.8" stroke-dasharray="2.2 1.8"/>
<path d="M574 240.2V240H576V221.75H577.25V206.75H578.25V195.75H579.75V184.25H580.5V181.25H582.25V168H583V165H584.5V160.25H586.25V159H588.25V156.5H589.5V155.25H590.75V154.5H591.5V153.75H593.5V151.5H595.25V149.5H595.5M627.25 149.5H627.5V147.4V240.2" stroke="#008000" stroke-width="1.1" stroke-opacity="0.8" stroke-dasharray="2.2 1.8" stroke-dashoffset="1.3"/>
<path d="M574 240.2V240H575.75V229H577.5V217.75H578.5V215H580.5V207H582.25V201H584.25V194.25H585.5V192H587.25V182.75H588.75V177.5H590V173.5H591.75V169.75H593.75V168H595.5V166.5H596.25V166H597.5V165.5H599.5V164.5H601.5V162.25H602.25V161H604.25V160H606.25V159H607.5V158.5H609V158H610.5V157.5H612V156.75H613.25V156.5H614.25V156.25H615.25V156H617.25V155.75H618.25V155.5H619.5V155.25H621V155H624.25V154.25H626V152.75H627.75V152.5H629V152.25H630.25V152H632.5V151.5H633.5V151.25H634.5V151H636V150.75H637.25V150.5H638.5V150.25H640.25V150H641.25V149.75H642.75V149.5H643.75V149.25H645.75V149H647.75V148H649.25V147.5H649.5V147.4V240.2" stroke="#ff0000" stroke-width="1.1" stroke-opacity="0.8" stroke-dasharray="2.2 1.8" stroke-dashoffset="2.6"/>
<path d="M574 240.2V240H575.75V190.75H577V178.5H578.75V165H579.5V160H581.25V158H582.75V157H583.5V156.25H585.5V154.75H586.25V154.25H587.75V152.25H589.25V151.25H591V149H592V147.5H592.5V147.4V240.2" stroke="#0000ff" stroke-width="1.1" stroke-opacity="0.8"/>
<path d="M574 240.2V240H575.25V226.5H576.25V214.25H577.25V203.5H578.5V193.5H580V178.25H581.25V167.75H582.25V162.5H583.5V159H584.5V158H585.5V157.25H587V155.75H588.25V155.25H589.5V154H590.5V153.5H591.75V152H592.5V151.25H593.5V150.5H595V149.5H629.25V147.5H630V147.4V240.2" stroke="#008000" stroke-width="1.1" stroke-opacity="0.8"/>
<path d="M574 240.2V240H574.75V232.5H576.25V223.75H577.25V218.75H578V214.5H579.25V210.5H581.25V202H583.5V195.25H584.25V192H586.25V183.5H587.25V181.5H588.75V175.25H589.75V171.75H591.5V168.75H592.75V167.75H594V166.5H595.5V165.5H596.5V165H598.25V164H599.25V163.5H601.25V160.75H603V159.75H604.5V159.25H606.25V159H607.5V158.25H609V157.75H610.5V156.75H611.75V156.25H613.75V155.75H616.75V155.5H622V155.25H624V154.25H626.25V152.75H627.5V152.5H630V152H632.25V151.75H634V151.25H636.75V150.75H638.25V150.5H639V150.25H640.75V150H642.25V149.75H643.25V149.5H645V149.25H645.75V149H647.75V148.5H649.75V147.4V240.2" stroke="#ff0000" stroke-width="1.1" stroke-opacity="0.8"/>
<path d="M574.25 240.2V240H575.75V216.25H577.75V205.25H579.75V194.75H581.25V188.5H582.25V185.25H584.25V177.75H586.25V173.25H587.75V171.75H588.75V170.75H590V166.75H591.75V163.25H593.25V163H594.75V162.5H596.75V162.25H598.5V162H601.5V159.25H602V158.5H603.75V156.5H604.75V156.25H606.75V156H608.75V155.5H610.25V154.25H611.5V152.5H613V152H614.5V151H615.25V150.25H617.25V150H618.25V149.75H630V149.5H634V149.25H634.5V149H635.5V148.75H638.5V148.25H639.5V147.4V240.2" stroke="#0000ff" stroke-width="1.05" stroke-opacity="0.75" stroke-dasharray="0.74 1.22"/>
<path d="M574.5 240.2V240H575.75V233.75H577.5V228.75H578.75V222.75H579.5V220H580.75V215.5H582.25V207.75H583.75V203.5H584.5V199H586V196H586.75V194H588V192H589.75V184.75H591.75V178H593.5V173.5H595.5V169.5H596.5V166.5H597.25V165.25H598.5V164.25H599.5V163.25H601.5V161H603V160.25H604V159.25H605.75V157.5H606.75V156.25H608V155H609.25V154H611.25V153.75H612V153.5H613.25V153.25H615V153H617.25V152.75H620V152.5H623V152.25H624.25V152H626.25V151.75H628V151.5H629V151.25H631V149H632.25V147.4V240.2" stroke="#008000" stroke-width="1.05" stroke-opacity="0.75" stroke-dasharray="0.74 1.22" stroke-dashoffset="0.65"/>
<path d="M575.75 240.2V240H577.25V233.5H578V229.25H579.25V225.25H580.25V221.75H581.25V219.5H582.5V217H584.5V212.5H586V209H587.75V205.5H589V202.25H589.75V201.25H590.75V199.5H591.75V198H593.5V195.5H594.25V195.25H596V192.75H597.5V191H598.75V189.25H600.25V186.5H600.75V185.5H602.5V180.5H604.25V178.25H606V177.25H607.25V176.25H608.25V176H609V174.75H610V174H611.5V172H613.5V170H615.25V168.5H616.5V168H617.75V167.25H618.5V167H620.25V166.5H623V166H625.25V165.5H626V165.25H628V164H630V162.5H631V161.5H632.75V159H633.75V158H635.25V156.25H637V155.25H638V154.75H639V154.25H641V153.75H643.25V153.25H644.5V152.5H646V152H647.75V150.75H649.75V150H650.5V149.75H653.75V149.5H657.25V149.25H661.25V149H668.25V148.75H672.25V148H673V147.4V240.2" stroke="#ff0000" stroke-width="1.05" stroke-opacity="0.75" stroke-dasharray="0.74 1.22" stroke-dashoffset="1.3"/>
</g>
<rect x="573.5" y="142.85" width="108" height="97.35" fill="none" stroke="#000" stroke-opacity="0.8" stroke-width="0.8"/>
<path d="M570.65 240.2h2.85M570.65 221.64h2.85M570.65 203.08h2.85M570.65 184.52h2.85M570.65 165.96h2.85M570.65 147.4h2.85M573.4 240.2v2.85M592.68 240.2v2.85M611.96 240.2v2.85M631.24 240.2v2.85M650.52 240.2v2.85M669.8 240.2v2.85" stroke="#000" stroke-width="0.75" fill="none"/>
<g font-family="'DejaVu Sans','Liberation Sans',sans-serif" font-size="7.32" fill="#000">
<text x="567.75" y="243.08" text-anchor="end">0.0</text>
<text x="567.75" y="224.52" text-anchor="end">0.2</text>
<text x="567.75" y="205.96" text-anchor="end">0.4</text>
<text x="567.75" y="187.4" text-anchor="end">0.6</text>
<text x="567.75" y="168.84" text-anchor="end">0.8</text>
<text x="567.75" y="150.28" text-anchor="end">1.0</text>
<text x="573.4" y="251.16" text-anchor="middle">0</text>
<text x="592.68" y="251.16" text-anchor="middle">20</text>
<text x="611.96" y="251.16" text-anchor="middle">40</text>
<text x="631.24" y="251.16" text-anchor="middle">60</text>
<text x="650.52" y="251.16" text-anchor="middle">80</text>
<text x="669.8" y="251.16" text-anchor="middle">100</text>
</g>
<text x="627.8" y="262.92" text-anchor="middle" font-family="'DejaVu Sans','Liberation Sans',sans-serif" font-size="8.95" fill="#000">rHd95 (mm)</text>
<path d="M30.17 369.5H138.33M30.17 350.88H138.33M30.17 332.26H138.33M30.17 313.64H138.33M30.17 295.02H138.33M30.17 276.4H138.33" stroke="#b0b0b0" stroke-opacity="0.22" stroke-width="0.75" fill="none"/>
<g clip-path="url(#c20)" fill="none" stroke-linejoin="miter">
<path d="M119.5 369.5V364.75H120.75V361.75H122.5V359.25H123.25V356.25H124V354.25H125.5V347.75H127.75V333H129V312.25H130.5V285.75H132.5V276.4V369.5" stroke="#0000ff" stroke-width="1.1" stroke-opacity="0.8" stroke-dasharray="2.2 1.8"/>
<path d="M110.5 369.5V368.25H112.25V365H114V364.25H114.75V364H116V363.5H116.75V362.5H118.75V359.5H119.5V356.25H121.5V352.25H122.75V349.75H124.75V343H126.75V327H127.5V317.5H129V303H130.5V284.5H131.75V278.75H132.5V276.4V369.5" stroke="#008000" stroke-width="1.1" stroke-opacity="0.8" stroke-dasharray="2.2 1.8" stroke-dashoffset="1.3"/>
<path d="M86.75 359.25H89V355.5H91V355H93V354.5H94.25V354.25H95.5V353.75H96.5V353.25H97.75V351.75H99.25V349.75H100V349.5H100.75V349H103.25V348.75H104.5V348.5H106.75V348.25H107.5V348H109.25V347.75H111V347.25H112.75V343.75H114.75V337.5H115.5V336H116.5V333H118.5V328.5H120V324H121V321.25H122.5V317.25H124.5V310.5H126.5V302.75H127.75V294H129.75V283.75H131.5V278.25H132.75V277H133.25V276.4V369.5" stroke="#ff0000" stroke-width="1.1" stroke-opacity="0.8" stroke-dasharray="2.2 1.8" stroke-dashoffset="2.6"/>
<path d="M120.75 369.5V365.25H121.5V363.25H122.5V362.5H123.75V358.75H125.75V350.25H127.75V334.25H129.5V309.25H131V286.25H132.5V276.4V369.5" stroke="#0000ff" stroke-width="1.1" stroke-opacity="0.8"/>
<path d="M111.25 369.5V368.25H113V365H114.25V364.75H116.25V364.25H117.75V362.75H119.25V359.5H121.25V354.25H122.25V351.5H123.25V348.75H125.25V339.5H126.25V334.25H128.25V310.25H129.25V298.25H130.75V284.25H132.5V276.4V369.5" stroke="#008000" stroke-width="1.1" stroke-opacity="0.8"/>
<path d="M35.25 369.5V359.25H87.75V357.75H89.25V356.75H91V356.5H92.25V356.25H94V356H95.25V355.75H96.5V355H97.75V354H99.5V353.25H108.75V352.5H110.75V351.5H111.75V351.25H113.5V351H115.25V348.75H116.5V346.75H118.25V342H120V338.25H121V332.25H122V327.5H123V324H125V314H126V308.5H127V302H129V286.75H130.75V279.25H132.5V276.4V369.5" stroke="#ff0000" stroke-width="1.1" stroke-opacity="0.8"/>
<path d="M117.25 369.5V367.5H119.25V359H121V350.5H122.5V339.25H124.5V326.75H125.75V315.25H126.5V309.75H128.5V293.75H130V282H131.5V276.4V369.5" stroke="#0000ff" stroke-width="1.05" stroke-opacity="0.75" stroke-dasharray="0.74 1.22"/>
<path d="M95 369.5V367.5H97.25V367.25H100.75V367H102.5V362.75H104.5V362H106.25V361.75H108V357.25H109.5V348.75H111V346.5H112.75V343.75H114.5V340.5H116.5V336H117.25V334.75H119V330.25H120V329.25H121V326H122.25V322.5H124.5V315.25H126.25V306H127.75V294.75H129.25V284H131V276.5H131.5V276.4V369.5" stroke="#008000" stroke-width="1.05" stroke-opacity="0.75" stroke-dasharray="0.74 1.22" stroke-dashoffset="0.65"/>
<path d="M82 359.25H83.75V355.5H85.25V355.25H86.5V355H87.5V354.75H89.25V354H91.25V353.25H92.5V352.75H93.25V352.5H94.75V351.75H95.75V351.5H97.75V349.75H98.75V349H100V348H101.75V346.5H103.25V344.75H105.25V342H107.25V338.75H108.75V336.25H110V334H111V332.5H112.25V330.5H113.5V327.25H115.5V322.75H117.5V318.75H118.25V316H119.5V312.5H120.5V308H121.5V305H123.5V294H125V290.5H127V284.75H128V281.25H129.75V276.75H130.5V276.4V369.5" stroke="#ff0000" stroke-width="1.05" stroke-opacity="0.75" stroke-dasharray="0.74 1.22" stroke-dashoffset="1.3"/>
</g>
<rect x="30.17" y="271.85" width="108.16" height="97.65" fill="none" stroke="#000" stroke-opacity="0.8" stroke-width="0.8"/>
<path d="M27.32 369.5h2.85M27.32 350.88h2.85M27.32 332.26h2.85M27.32 313.64h2.85M27.32 295.02h2.85M27.32 276.4h2.85M35.3 369.5v2.85M55.04 369.5v2.85M74.78 369.5v2.85M94.52 369.5v2.85M114.26 369.5v2.85M134 369.5v2.85" stroke="#000" stroke-width="0.75" fill="none"/>
<g font-family="'DejaVu Sans','Liberation Sans',sans-serif" font-size="7.32" fill="#000">
<text x="24.35" y="373.03" text-anchor="end">0.0</text>
<text x="24.35" y="354.41" text-anchor="end">0.2</text>
<text x="24.35" y="335.79" text-anchor="end">0.4</text>
<text x="24.35" y="317.17" text-anchor="end">0.6</text>
<text x="24.35" y="298.55" text-anchor="end">0.8</text>
<text x="24.35" y="279.93" text-anchor="end">1.0</text>
<text x="35.3" y="380.76" text-anchor="middle">0.0</text>
<text x="55.04" y="380.76" text-anchor="middle">0.2</text>
<text x="74.78" y="380.76" text-anchor="middle">0.4</text>
<text x="94.52" y="380.76" text-anchor="middle">0.6</text>
<text x="114.26" y="380.76" text-anchor="middle">0.8</text>
<text x="134" y="380.76" text-anchor="middle">1.0</text>
</g>
<text x="84.4" y="392.29" text-anchor="middle" font-family="'DejaVu Sans','Liberation Sans',sans-serif" font-size="8.95" fill="#000">NSD</text>
<text transform="translate(8.1 320.54) rotate(-90)" text-anchor="middle" font-family="'DejaVu Sans','Liberation Sans',sans-serif" font-size="8.95" fill="#000">Cumulative Proportion</text>
<path d="M166.17 369.5H274.3M166.17 350.88H274.3M166.17 332.26H274.3M166.17 313.64H274.3M166.17 295.02H274.3M166.17 276.4H274.3" stroke="#b0b0b0" stroke-opacity="0.22" stroke-width="0.75" fill="none"/>
<g clip-path="url(#c21)" fill="none" stroke-linejoin="miter">
<path d="M248.5 369.5V368.25H250V365.25H251.75V364H253V362.25H254.75V359.75H256.25V356.75H257.25V354.5H258.25V352H260V344H261.5V331.75H262.5V318.75H264V312.5H265V300.5H265.75V292.5H267.5V276.4V369.5" stroke="#0000ff" stroke-width="1.1" stroke-opacity="0.8" stroke-dasharray="2.2 1.8"/>
<path d="M243.5 369.5V368.25H244.75V365.5H246.5V363.75H247.75V362.5H248.5V360H250.25V356.75H251V355H253V349H254.5V341.5H256V333.5H257.75V324.25H259.25V317.5H260.25V312H262V304.75H264V291H264.75V286.25H265.75V283.25H266.5V276.4V369.5" stroke="#008000" stroke-width="1.1" stroke-opacity="0.8" stroke-dasharray="2.2 1.8" stroke-dashoffset="1.3"/>
<path d="M211 362H212V361.25H215V361H216.5V360.75H219.25V360.5H220.5V360H222.25V359.5H223.25V359H224.75V358.25H226.5V357.5H227.25V357H228V355.75H229V354.75H230.75V352.75H232V350.75H233.5V348.75H235.5V346H237.25V345.25H239.25V344.5H240.75V344H241.5V342.75H242.75V341.5H244.5V339.75H246V337.75H247.75V335.75H248.75V334.75H250.75V333H252.5V330.5H253.5V328.75H254.5V327H255.5V324.25H257.25V314.25H259.25V305.5H260.5V301.75H262V292.5H262.75V288.5H264.25V281.75H265.75V280.5H266.5V279.25H268.5V276.75H269.25V276.4V369.5" stroke="#ff0000" stroke-width="1.1" stroke-opacity="0.8" stroke-dasharray="2.2 1.8" stroke-dashoffset="2.6"/>
<path d="M254.25 369.5V365.75H255.5V362.75H257V357H258V354H259.75V352.25H261.5V332.5H263.5V317.25H264.5V310.75H265.25V301H267.5V276.4V369.5" stroke="#0000ff" stroke-width="1.1" stroke-opacity="0.8"/>
<path d="M244.25 369.5V368.25H245.25V365.25H247.5V363.25H248.75V360.75H249.5V359.25H251V356.5H253V353.5H254V346.25H255V341.5H256.25V337H258V324.75H259.5V317.25H261V310.75H261.75V305H263V297.25H264V293.75H265.25V286.25H266V283H266.75V278H267.5V276.4V369.5" stroke="#008000" stroke-width="1.1" stroke-opacity="0.8"/>
<path d="M171 369.5V362H212.25V361.75H214V361.5H216.25V361.25H219.25V361H220.5V360.75H221.5V360.5H222.25V360H223.25V359.75H225V359.25H226.5V358.5H227.5V358.25H229.5V356.75H231V356H233V354.5H234.75V353.25H236.75V352H238V351.25H239.75V350.75H240.75V350H242V349.75H243V349.25H243.75V349H245V348.75H246.5V348.5H248V347.75H249.5V347.25H250.75V346.5H251.75V345.75H252.75V344.25H253.75V341.25H255.75V334.25H257.5V322.25H259V311.75H260.25V305.25H261.5V299H263.25V288.75H265V281.75H266.75V279.25H268.5V276.4V369.5" stroke="#ff0000" stroke-width="1.1" stroke-opacity="0.8"/>
<path d="M241.25 369.5V368.25H242.75V367.75H243.75V367.25H248V367H249.5V365.5H251.5V362H252.5V360H254V353.75H255V350.5H256.75V339.25H258.5V330.25H259.5V324H261V317.5H262V313.75H263.25V308H264.25V298H265.5V288H267.5V276.4V369.5" stroke="#0000ff" stroke-width="1.05" stroke-opacity="0.75" stroke-dasharray="0.74 1.22"/>
<path d="M219.75 369.5V367.5H222.75V367.25H223.75V367H225.75V364.5H227.5V364.25H228.75V364H230.25V360.75H232V359.5H233V358.5H234V357.25H235.75V354H236.75V352.5H237.75V350.75H239V349.5H240V349.25H242V348.25H242.75V348H243.5V347.75H245V346H246.5V342.5H247V341.75H248V339.75H249.5V338H251.5V335.5H252.75V333.25H254.25V328.5H255.25V326.75H256.5V322.75H257.25V322H259V314.75H260.5V310H262V300.75H263.5V290.75H265.25V282.25H266.5V276.4V369.5" stroke="#008000" stroke-width="1.05" stroke-opacity="0.75" stroke-dasharray="0.74 1.22" stroke-dashoffset="0.65"/>
<path d="M205 362H206.5V359H209.75V358.75H213.75V358.5H215V356.75H218.25V356.5H220.5V356.25H222.25V355H223.75V353.5H225V352.75H227V352H228.75V351.75H231.25V351.5H233V349H234.25V346.75H235.25V345.5H237.25V344.25H239.25V342.75H240.5V341.75H241.5V338H243V334.25H244.5V329.25H245.5V326.25H247.5V322.25H248.75V318.75H250.75V314H251.75V312H253.75V306H254.5V303.25H256.25V299.5H257.75V295H258.5V294H259.25V291H261V284.75H261.75V282H263.5V278H264.5V276.4V369.5" stroke="#ff0000" stroke-width="1.05" stroke-opacity="0.75" stroke-dasharray="0.74 1.22" stroke-dashoffset="1.3"/>
</g>
<rect x="166.17" y="271.85" width="108.13" height="97.65" fill="none" stroke="#000" stroke-opacity="0.8" stroke-width="0.8"/>
<path d="M163.32 369.5h2.85M163.32 350.88h2.85M163.32 332.26h2.85M163.32 313.64h2.85M163.32 295.02h2.85M163.32 276.4h2.85M171 369.5v2.85M190.8 369.5v2.85M210.6 369.5v2.85M230.4 369.5v2.85M250.2 369.5v2.85M270 369.5v2.85" stroke="#000" stroke-width="0.75" fill="none"/>
<g font-family="'DejaVu Sans','Liberation Sans',sans-serif" font-size="7.32" fill="#000">
<text x="160.2" y="373.03" text-anchor="end">0.0</text>
<text x="160.2" y="354.41" text-anchor="end">0.2</text>
<text x="160.2" y="335.79" text-anchor="end">0.4</text>
<text x="160.2" y="317.17" text-anchor="end">0.6</text>
<text x="160.2" y="298.55" text-anchor="end">0.8</text>
<text x="160.2" y="279.93" text-anchor="end">1.0</text>
<text x="171" y="380.76" text-anchor="middle">0.0</text>
<text x="190.8" y="380.76" text-anchor="middle">0.2</text>
<text x="210.6" y="380.76" text-anchor="middle">0.4</text>
<text x="230.4" y="380.76" text-anchor="middle">0.6</text>
<text x="250.2" y="380.76" text-anchor="middle">0.8</text>
<text x="270" y="380.76" text-anchor="middle">1.0</text>
</g>
<text x="220.25" y="392.29" text-anchor="middle" font-family="'DejaVu Sans','Liberation Sans',sans-serif" font-size="8.95" fill="#000">NSD</text>
<path d="M302.2 369.5H409.5M302.2 350.88H409.5M302.2 332.26H409.5M302.2 313.64H409.5M302.2 295.02H409.5M302.2 276.4H409.5" stroke="#b0b0b0" stroke-opacity="0.22" stroke-width="0.75" fill="none"/>
<g clip-path="url(#c22)" fill="none" stroke-linejoin="miter">
<path d="M377.25 369.5V368.25H378.5V365H380.25V357H382V354H384V347.25H385.75V345.5H387.5V337.75H389.5V332H390.75V324.75H392.5V312H394.5V297.25H395.25V290.75H397.25V279H398V278H400V277H401V276.75H401.5V276.4V369.5" stroke="#0000ff" stroke-width="1.1" stroke-opacity="0.8" stroke-dasharray="2.2 1.8"/>
<path d="M368.75 369.5V365H370V363H371.25V362.25H373.5V362H375V361.75H376.75V358.5H378.5V353.75H379.75V351H381.25V347H382.25V344.5H384.25V340.5H385.75V336.5H387.25V329H388V326.75H388.75V320.5H390V315H391.75V308.25H392.75V302.25H394.75V288.75H395.5V282H397V277.25H397.5V276.4V369.5" stroke="#008000" stroke-width="1.1" stroke-opacity="0.8" stroke-dasharray="2.2 1.8" stroke-dashoffset="1.3"/>
<path d="M360.5 355.5H362V353.25H363.25V351.25H365.25V349.25H366.5V347.75H368.25V346.75H370V345.25H371V344.75H372V344H373.25V343H374.5V341.5H375.75V337.5H377.25V335.75H378.5V334H380.5V331.5H381.25V329.5H382.75V326H384.75V320.5H386.25V317.25H387.25V313.5H388.75V308.25H389.5V307.25H391.5V297.25H392.25V291.75H393.5V287.25H394.5V284H395.75V279.5H397.75V277H401V276.75H402.75V276.5H404.5V276.4V369.5" stroke="#ff0000" stroke-width="1.1" stroke-opacity="0.8" stroke-dasharray="2.2 1.8" stroke-dashoffset="2.6"/>
<path d="M383.75 369.5V365.25H385V354.75H386V349.75H387V349H388.5V342.5H389.75V335H391.25V325H392V318.25H393V311H395V295.5H397V283H397.75V278.75H398.75V276.4V369.5" stroke="#0000ff" stroke-width="1.1" stroke-opacity="0.8"/>
<path d="M369 369.5V365.25H370.75V363H372.5V362.75H373.75V362.5H376V362.25H377V358H378.5V354.75H380.25V351.25H381V349.75H381.75V346H382.75V343.25H384.75V340H386.5V332.75H388.5V326.5H389.75V320.25H391.5V309.5H393V303.5H394.75V288.75H396V282.25H396.5V276.4V369.5" stroke="#008000" stroke-width="1.1" stroke-opacity="0.8"/>
<path d="M307 369.5V355.5H362V354H364V351H365.75V349.25H367V347.75H369V346.25H370.25V345.5H371.75V344.25H373.75V343.25H375.25V339.75H376.5V336.75H377.5V335.25H379.5V332.75H381V330.25H382V327.25H383.5V323.25H385.5V317.5H386.25V315.5H388V311.25H389.75V305H390.75V299.5H392V293.25H393.75V285.5H395.5V279.5H397V277H398.75V276.75H402.25V276.5H403.25V276.4V369.5" stroke="#ff0000" stroke-width="1.1" stroke-opacity="0.8"/>
<path d="M374.25 369.5V368.25H376V367.5H377.75V365.75H379.25V360.75H380.5V351H381.75V345.5H383V334.5H384.25V327.75H385.75V320.75H387V317.25H387.75V313.75H389.25V308.5H390.25V304H392V297.75H393.75V289.25H395V285H396.75V278.75H397.5V276.4V369.5" stroke="#0000ff" stroke-width="1.05" stroke-opacity="0.75" stroke-dasharray="0.74 1.22"/>
<path d="M355.25 369.5V367.5H357.75V367.25H360.75V366.25H363V362.25H364.75V360.75H365.75V360H367.5V356.75H369V356H369.75V355.25H370.5V355H371.75V353.75H373V351.25H375V343.25H377V335.25H378V329.75H379.5V322.5H380.75V319.75H382.5V314.25H384.75V308.75H386V303.25H387.25V298.25H388.5V296.25H390V285.5H391.75V281.75H393V278.5H394.75V277H395.75V276.75H397.5V276.4V369.5" stroke="#008000" stroke-width="1.05" stroke-opacity="0.75" stroke-dasharray="0.74 1.22" stroke-dashoffset="0.65"/>
<path d="M336.25 355.5H337V353.75H339.25V353.25H347.25V352.75H349.25V351.25H350V351H352.5V349.75H353.5V348.25H355.5V347.75H357.25V347.5H359.25V346H360.75V343H361.75V341.5H363.5V337.75H364.75V335.75H365.5V335H367.25V333.25H368.5V331.75H369.75V329.5H371.5V326H372.5V323.75H373.25V321H375.25V317H377V313.75H378V311H380V306.25H381.5V299H382.75V294.25H383.75V291.25H384.75V287.75H385.25V287.5H386.75V286H388.5V284.5H390V283H390.75V281.75H392V279.25H394V277H395.5V276.4V369.5" stroke="#ff0000" stroke-width="1.05" stroke-opacity="0.75" stroke-dasharray="0.74 1.22" stroke-dashoffset="1.3"/>
</g>
<rect x="302.2" y="271.85" width="107.3" height="97.65" fill="none" stroke="#000" stroke-opacity="0.8" stroke-width="0.8"/>
<path d="M299.35 369.5h2.85M299.35 350.88h2.85M299.35 332.26h2.85M299.35 313.64h2.85M299.35 295.02h2.85M299.35 276.4h2.85M306.8 369.5v2.85M326.56 369.5v2.85M346.32 369.5v2.85M366.08 369.5v2.85M385.84 369.5v2.85M405.6 369.5v2.85" stroke="#000" stroke-width="0.75" fill="none"/>
<g font-family="'DejaVu Sans','Liberation Sans',sans-serif" font-size="7.32" fill="#000">
<text x="296.05" y="373.03" text-anchor="end">0.0</text>
<text x="296.05" y="354.41" text-anchor="end">0.2</text>
<text x="296.05" y="335.79" text-anchor="end">0.4</text>
<text x="296.05" y="317.17" text-anchor="end">0.6</text>
<text x="296.05" y="298.55" text-anchor="end">0.8</text>
<text x="296.05" y="279.93" text-anchor="end">1.0</text>
<text x="306.8" y="380.76" text-anchor="middle">0.0</text>
<text x="326.56" y="380.76" text-anchor="middle">0.2</text>
<text x="346.32" y="380.76" text-anchor="middle">0.4</text>
<text x="366.08" y="380.76" text-anchor="middle">0.6</text>
<text x="385.84" y="380.76" text-anchor="middle">0.8</text>
<text x="405.6" y="380.76" text-anchor="middle">1.0</text>
</g>
<text x="356.1" y="392.29" text-anchor="middle" font-family="'DejaVu Sans','Liberation Sans',sans-serif" font-size="8.95" fill="#000">NSD</text>
<path d="M437.5 369.5H545.5M437.5 350.88H545.5M437.5 332.26H545.5M437.5 313.64H545.5M437.5 295.02H545.5M437.5 276.4H545.5" stroke="#b0b0b0" stroke-opacity="0.22" stroke-width="0.75" fill="none"/>
<g clip-path="url(#c23)" fill="none" stroke-linejoin="miter">
<path d="M502 369.5V368.25H503V365.75H503.75V365.5H505.25V364.75H506.25V364.25H507.75V361.5H509V355.5H510.25V350H512V344.25H513V340.25H513.75V335.5H515V329.25H516.5V323.75H518V318H519.25V311.5H520.5V304.5H521.25V299.75H522.5V295.25H523.25V289.25H525.25V280.5H526.75V278.5H527.5V278.25H528.75V278H530V277.5H531V277.25H532.75V276.75H533.75V276.4V369.5" stroke="#0000ff" stroke-width="1.1" stroke-opacity="0.8" stroke-dasharray="2.2 1.8"/>
<path d="M475.25 367H476.25V365.25H477.5V364.75H479.25V364.25H481V363.5H483V363H484.25V362.25H485.5V361.5H487.25V360.5H489V360.25H493.75V360H497V359H498.5V357H499.25V356H501.25V352H503V349.75H503.75V349.25H505.75V346.5H507.25V343.25H508.25V340.25H510.25V335.5H511.5V332.25H512.25V328.5H514.25V324H515V321H516.5V315.25H518.25V307.75H519.25V301.75H520V301H521.75V289.5H523.25V284.25H524.5V279.75H526.5V276.4V369.5" stroke="#008000" stroke-width="1.1" stroke-opacity="0.8" stroke-dasharray="2.2 1.8" stroke-dashoffset="1.3"/>
<path d="M442.75 369.5V364H444V361.5H445.75V360.25H446.5V360H448.5V359.5H449.75V359.25H450.75V358.75H452.5V358.25H454V357.75H454.75V357.5H455.75V357.25H457V356.75H457.75V356.5H459.25V356H460.75V355.5H462V355H464V354.25H464.75V354H466V353.5H468V353.25H469.5V352.25H471.25V350.75H473V349.75H475.25V349.5H478.75V349.25H483.25V347H484.5V346.25H485.25V345H487.25V343.25H488.25V342.75H490V341.25H490.5V341H491.5V340.25H493.75V339H494.5V338.25H496.25V337.5H498.25V335.75H499.5V334H500.5V332H501.75V330.75H503V328.75H504V327.25H505V326.25H506V325H508V321.5H509.5V319.75H510.25V318.5H511.25V315.25H512.75V312.5H514.5V307.25H515.25V305H516.75V302H518.75V296.25H520.25V293.25H521.25V290.25H523V285.5H524.5V283.75H525.75V282.5H527.5V280.75H528.5V280H530V279H532V278.25H533V278H535V277.75H536.5V277.5H538.25V277H539.25V276.75H540V276.5H540.75V276.4V369.5" stroke="#ff0000" stroke-width="1.1" stroke-opacity="0.8" stroke-dasharray="2.2 1.8" stroke-dashoffset="2.6"/>
<path d="M502.5 369.5V368.25H504V366.25H507V366H508.75V358.5H510.25V354.25H511.75V347H512.75V343.75H514.75V334.75H516.75V325.25H518V320.75H519V313.5H519.75V311.25H521.5V299H522.5V296.75H524V286.25H526V279.5H527.25V278H528.75V277.25H530.25V276.75H531V276.4V369.5" stroke="#0000ff" stroke-width="1.1" stroke-opacity="0.8"/>
<path d="M442.75 369.5V367H482V364.75H502.5V358.5H503.25V357.25H504.25V354.75H505.75V353.5H507.5V350H509.5V344H510.5V339H512.5V331.5H513.5V329H515V323.5H517V316.5H518V310.25H519V306.5H519.75V302.25H520.5V296.75H522V289.75H523.25V284.25H524V281.75H525.25V277.75H526.5V276.4V369.5" stroke="#008000" stroke-width="1.1" stroke-opacity="0.8"/>
<path d="M442.75 369.5V364H445V360.5H446.75V360H448V359.75H450.5V359.5H452V359H453.25V358.75H455V358.25H456.25V357.75H457.5V357.25H459V356.75H460V356.5H460.75V356.25H462.5V355.75H463.25V355.25H465V354.75H466.25V354.5H469.25V352.75H470.5V351.5H472.5V350.5H474.5V349.25H476.5V349H479.75V348.75H483.25V348.5H484V347H486.25V344.5H488V343H489.5V341.75H490.5V341.25H491.5V340.75H492.75V339.75H493.75V339H494.75V338.75H496.5V338.5H498.5V338H500V334.5H501.25V331.25H503V329.25H503.75V328.75H505V326.25H506.5V324.5H508V322.25H509V321.5H510.75V317.75H512.25V314H514.5V308.5H515.75V305H517.25V301.5H519V295.75H520V295H521.5V290.25H523V287H524.5V283.25H526.25V281.5H527.5V280.5H528.5V280.25H529.25V279.25H530.25V278.75H531.25V278.25H532.25V278H534.75V277.5H536V277.25H537V276.4V369.5" stroke="#ff0000" stroke-width="1.1" stroke-opacity="0.8"/>
<path d="M496.5 369.5V367.5H499V367.25H500.75V367H502.5V359.75H503.75V352.75H504.75V348.75H506.75V345H507.5V341.5H509V336.25H509.75V331.5H511V325.75H512V320.25H513.5V314H515.25V307.5H516.75V302.75H517.75V300.5H519.25V293H521.25V288.5H522.75V283.5H524.5V279.5H526.5V276.4V369.5" stroke="#0000ff" stroke-width="1.05" stroke-opacity="0.75" stroke-dasharray="0.74 1.22"/>
<path d="M476.25 367H478.25V364H479.75V363.5H481V363H482.5V362.5H483.75V361.75H485.25V361.25H486.75V361H487.75V360.75H490.25V360.5H491.75V360.25H492.75V359.75H493.5V359H494.25V358.75H495.75V357.75H497.5V357.25H498.75V355.75H500V352H501.5V345.25H502.75V340.5H504.5V330H505.75V328.25H507V324.75H508.25V322.5H509V320H511V314H513V305.75H514V304.25H515.25V298.75H516.75V291.25H517.75V290.5H519.5V285.75H520.5V283.75H521.5V281.75H523.25V279H524.75V277.25H525.5V276.75H526.5V276.4V369.5" stroke="#008000" stroke-width="1.05" stroke-opacity="0.75" stroke-dasharray="0.74 1.22" stroke-dashoffset="0.65"/>
<path d="M442.75 369.5V364H445V361.5H447V359.25H448.25V358.5H449.25V358.25H450.5V357.75H452.5V357H454V356.5H455V356H456.5V355.5H458.5V354.25H460.25V352.75H462V352H463.25V351.25H465V349.25H466.5V347.25H468.25V346H470V345.5H471.75V345.25H472.75V344.75H473.75V344.5H475V343.75H476.5V343H478V342.5H479.75V341.25H481.25V340.25H483V339.5H484V338.75H485.25V338H486.5V336.25H488V333.75H490V331.25H491.75V329.25H492.5V328.25H494V326.75H495.25V324H496.75V321.75H498.5V319H499.25V316.75H500V314.25H501V312.5H502.75V308.5H503.75V307.5H505V305.75H506.25V304.25H507V303.5H508.5V300.25H510V297H511.25V292.5H512.5V290H513.75V288.5H515.75V285.25H517V283.75H518V282.75H519V281.5H520.5V280.5H522.25V279.25H523.25V278.75H525V277.25H525.75V276.75H526.5V276.4V369.5" stroke="#ff0000" stroke-width="1.05" stroke-opacity="0.75" stroke-dasharray="0.74 1.22" stroke-dashoffset="1.3"/>
</g>
<rect x="437.5" y="271.85" width="108" height="97.65" fill="none" stroke="#000" stroke-opacity="0.8" stroke-width="0.8"/>
<path d="M434.65 369.5h2.85M434.65 350.88h2.85M434.65 332.26h2.85M434.65 313.64h2.85M434.65 295.02h2.85M434.65 276.4h2.85M442.4 369.5v2.85M462.14 369.5v2.85M481.88 369.5v2.85M501.62 369.5v2.85M521.36 369.5v2.85M541.1 369.5v2.85" stroke="#000" stroke-width="0.75" fill="none"/>
<g font-family="'DejaVu Sans','Liberation Sans',sans-serif" font-size="7.32" fill="#000">
<text x="431.9" y="373.03" text-anchor="end">0.0</text>
<text x="431.9" y="354.41" text-anchor="end">0.2</text>
<text x="431.9" y="335.79" text-anchor="end">0.4</text>
<text x="431.9" y="317.17" text-anchor="end">0.6</text>
<text x="431.9" y="298.55" text-anchor="end">0.8</text>
<text x="431.9" y="279.93" text-anchor="end">1.0</text>
<text x="442.4" y="380.76" text-anchor="middle">0.0</text>
<text x="462.14" y="380.76" text-anchor="middle">0.2</text>
<text x="481.88" y="380.76" text-anchor="middle">0.4</text>
<text x="501.62" y="380.76" text-anchor="middle">0.6</text>
<text x="521.36" y="380.76" text-anchor="middle">0.8</text>
<text x="541.1" y="380.76" text-anchor="middle">1.0</text>
</g>
<text x="491.95" y="392.29" text-anchor="middle" font-family="'DejaVu Sans','Liberation Sans',sans-serif" font-size="8.95" fill="#000">NSD</text>
<path d="M573.5 369.5H681.5M573.5 350.88H681.5M573.5 332.26H681.5M573.5 313.64H681.5M573.5 295.02H681.5M573.5 276.4H681.5" stroke="#b0b0b0" stroke-opacity="0.22" stroke-width="0.75" fill="none"/>
<g clip-path="url(#c24)" fill="none" stroke-linejoin="miter">
<path d="M654 369.5V368.25H655.5V360.5H657.25V358.75H659V350.25H660.5V344.25H661.25V342.5H663.25V341.75H664V341.5H665.25V339.75H667V337.5H668.5V331H670.5V322.75H672V311.5H673.5V295H674.25V284.25H676.5V276.4V369.5" stroke="#0000ff" stroke-width="1.1" stroke-opacity="0.8" stroke-dasharray="2.2 1.8"/>
<path d="M649.25 364.75H650.75V364.5H652.75V364.25H654.75V362H657V359H658.75V355.25H659.75V353.5H660.5V352.75H662.25V344.75H664V342.75H665V341.75H666V338.25H666.75V334.75H668V326.5H669.25V322.5H670.5V314H672.25V294H674V276.5H674.5V276.4V369.5" stroke="#008000" stroke-width="1.1" stroke-opacity="0.8" stroke-dasharray="2.2 1.8" stroke-dashoffset="1.3"/>
<path d="M618.25 363.5H619V363.25H620.5V363H622V362.75H623V362.5H625.75V362H626.75V361.75H629V361H630.75V360.25H631.5V359.75H633.5V357.75H634.5V356H635.75V354.5H637V354H638.5V353.25H639.5V353H640.5V352.75H642.25V351.75H644.25V350H645.5V348.75H646.25V348H647.75V344.5H648.75V343H649.75V341.75H651.25V338.5H653V335.5H654.25V333H655.25V331.25H657.25V327.75H658.5V326H660.25V322.75H661.25V321.25H662.75V318H663.75V315.25H665.5V308.5H666.75V302.5H668V298.75H669.25V293.5H670.5V286.5H671.5V282.25H673V278.25H674.25V276.75H675.5V276.4V369.5" stroke="#ff0000" stroke-width="1.1" stroke-opacity="0.8" stroke-dasharray="2.2 1.8" stroke-dashoffset="2.6"/>
<path d="M637.25 369.5V367.5H658.5V364.5H660V361.75H661.75V358H662.75V355.25H664.5V353.5H665.5V352.75H667.5V347.75H668.75V338.5H670V330.5H670.75V325.75H671.5V317.5H672.25V310H674V288.5H675.75V278.5H676.5V276.4V369.5" stroke="#0000ff" stroke-width="1.1" stroke-opacity="0.8"/>
<path d="M637.25 369.5V367.5H640.5V367.25H643V367H645V365.75H645.75V365H648.25V364.75H653.5V363.75H655.5V362.25H657.25V359H658.5V357.25H659.25V356.25H660.5V354.25H662V351.5H663.5V348.75H665.25V343.25H667V335.75H668.25V329.25H670.25V321.25H671V310H672.25V296H674V282H674.5V276.4V369.5" stroke="#008000" stroke-width="1.1" stroke-opacity="0.8"/>
<path d="M578.75 369.5V364.75H597.5V364.5H607.25V364.25H610.75V364H615V363.75H618.75V363.5H620.75V363.25H622.75V363H623.5V362.75H625.5V362.5H628V362.25H630V361.5H632.75V360.75H634.75V360.5H635.5V360.25H637V359.75H638.75V359.5H639.5V359.25H640.5V359H641.5V358.75H642.25V358.5H643.5V357.25H644.75V356.75H645.75V356.25H647.5V354.75H649.5V352.5H651.25V350.75H652.25V348.75H653.75V346.25H655V343H656.25V339.5H657.75V335.75H659.75V331H661V327.5H662V326H663V324H665V320.75H666V313.25H667.75V303.5H669.25V296.25H670.5V286.25H672.5V280.25H674V276.75H675.5V276.4V369.5" stroke="#ff0000" stroke-width="1.1" stroke-opacity="0.8"/>
<path d="M609.25 369.5V367.5H612.25V367.25H654.75V359.25H656.75V358.5H658V358.25H659.25V342.5H660.75V342H662.25V339.25H663.5V332H665V326.75H666.25V321H667.5V316.25H668.5V311.25H670V301H671.5V293.25H673.25V280.75H674.5V278.5H675.25V277.25H676.5V276.4V369.5" stroke="#0000ff" stroke-width="1.05" stroke-opacity="0.75" stroke-dasharray="0.74 1.22"/>
<path d="M621.75 369.5V365H637.5V364.75H650.25V359H652V348.75H653.5V342.5H654.25V342.25H655.5V341.75H657.25V338.25H658.5V335.75H660V332.5H660.75V331.25H662V330H663.5V325.75H665.25V323H666V321.5H667.25V317.75H668V313H669.75V302.25H671.25V292.75H673.25V282.75H674.5V276.4V369.5" stroke="#008000" stroke-width="1.05" stroke-opacity="0.75" stroke-dasharray="0.74 1.22" stroke-dashoffset="0.65"/>
<path d="M613.5 363.5H615V362.75H616.75V361.75H619.25V361H620.5V360H622.25V358.25H623V357.75H624.5V356.75H625.5V356.5H626.5V356H628.25V354.5H629V353H630.5V351.5H632.25V348.5H634V347.5H636.25V345.25H638V341.5H639.75V336.75H641.25V333.5H642.25V332.5H643.25V330.25H644V329.25H644.75V327.5H645.75V325.75H647.5V322.5H648.5V320.5H650.5V315.75H652V312.25H653.75V310H655.5V307.5H657.5V305.75H658.75V304H660.25V302.5H661.75V300.75H663.5V292.25H665.25V288.25H667.25V283.25H668.25V281.5H669.25V279.75H670V279H671.25V277.25H672.5V276.4V369.5" stroke="#ff0000" stroke-width="1.05" stroke-opacity="0.75" stroke-dasharray="0.74 1.22" stroke-dashoffset="1.3"/>
</g>
<rect x="573.5" y="271.85" width="108" height="97.65" fill="none" stroke="#000" stroke-opacity="0.8" stroke-width="0.8"/>
<path d="M570.65 369.5h2.85M570.65 350.88h2.85M570.65 332.26h2.85M570.65 313.64h2.85M570.65 295.02h2.85M570.65 276.4h2.85M578.55 369.5v2.85M598.44 369.5v2.85M618.33 369.5v2.85M638.22 369.5v2.85M658.11 369.5v2.85M678 369.5v2.85" stroke="#000" stroke-width="0.75" fill="none"/>
<g font-family="'DejaVu Sans','Liberation Sans',sans-serif" font-size="7.32" fill="#000">
<text x="567.75" y="373.03" text-anchor="end">0.0</text>
<text x="567.75" y="354.41" text-anchor="end">0.2</text>
<text x="567.75" y="335.79" text-anchor="end">0.4</text>
<text x="567.75" y="317.17" text-anchor="end">0.6</text>
<text x="567.75" y="298.55" text-anchor="end">0.8</text>
<text x="567.75" y="279.93" text-anchor="end">1.0</text>
<text x="578.55" y="380.76" text-anchor="middle">0.0</text>
<text x="598.44" y="380.76" text-anchor="middle">0.2</text>
<text x="618.33" y="380.76" text-anchor="middle">0.4</text>
<text x="638.22" y="380.76" text-anchor="middle">0.6</text>
<text x="658.11" y="380.76" text-anchor="middle">0.8</text>
<text x="678" y="380.76" text-anchor="middle">1.0</text>
</g>
<text x="627.8" y="392.29" text-anchor="middle" font-family="'DejaVu Sans','Liberation Sans',sans-serif" font-size="8.95" fill="#000">NSD</text>
<rect x="98.8" y="403.5" width="489.5" height="14.8" rx="1.8" ry="1.8" fill="#fff" fill-opacity="0.8" stroke="#ccc" stroke-opacity="0.8" stroke-width="0.81"/>
<path d="M102.38 410.45H120.28" stroke="#000" stroke-width="1.5" stroke-dasharray="4.46 3.65" fill="none"/>
<text x="127.94" y="413.55" font-family="'DejaVu Sans','Liberation Sans',sans-serif" font-size="8.7" fill="#000">MOOSE</text>
<path d="M178.49 410.45H196.39" stroke="#000" stroke-width="1.5" stroke-linecap="square" fill="none"/>
<text x="204.05" y="413.55" font-family="'DejaVu Sans','Liberation Sans',sans-serif" font-size="8.7" fill="#000">TotalSegmentator</text>
<path d="M300.78 410.45H318.68" stroke="#000" stroke-width="1.5" stroke-dasharray="1.5 2.47" fill="none"/>
<text x="326.34" y="413.55" font-family="'DejaVu Sans','Liberation Sans',sans-serif" font-size="8.7" fill="#000">LungMask</text>
<path d="M388.65 410.45H406.55" stroke="#0000ff" stroke-width="1.5" stroke-linecap="square" fill="none"/>
<text x="413.61" y="413.55" font-family="'DejaVu Sans','Liberation Sans',sans-serif" font-size="8.7" fill="#000">Easy</text>
<path d="M452.71 410.45H470.61" stroke="#008000" stroke-width="1.5" stroke-linecap="square" fill="none"/>
<text x="478.27" y="413.55" font-family="'DejaVu Sans','Liberation Sans',sans-serif" font-size="8.85" fill="#000">Moderate</text>
<path d="M539.05 410.45H556.95" stroke="#ff0000" stroke-width="1.5" stroke-linecap="square" fill="none"/>
<text x="563.66" y="413.55" font-family="'DejaVu Sans','Liberation Sans',sans-serif" font-size="8.7" fill="#000">Hard</text>
</svg>
</body>
</html>
